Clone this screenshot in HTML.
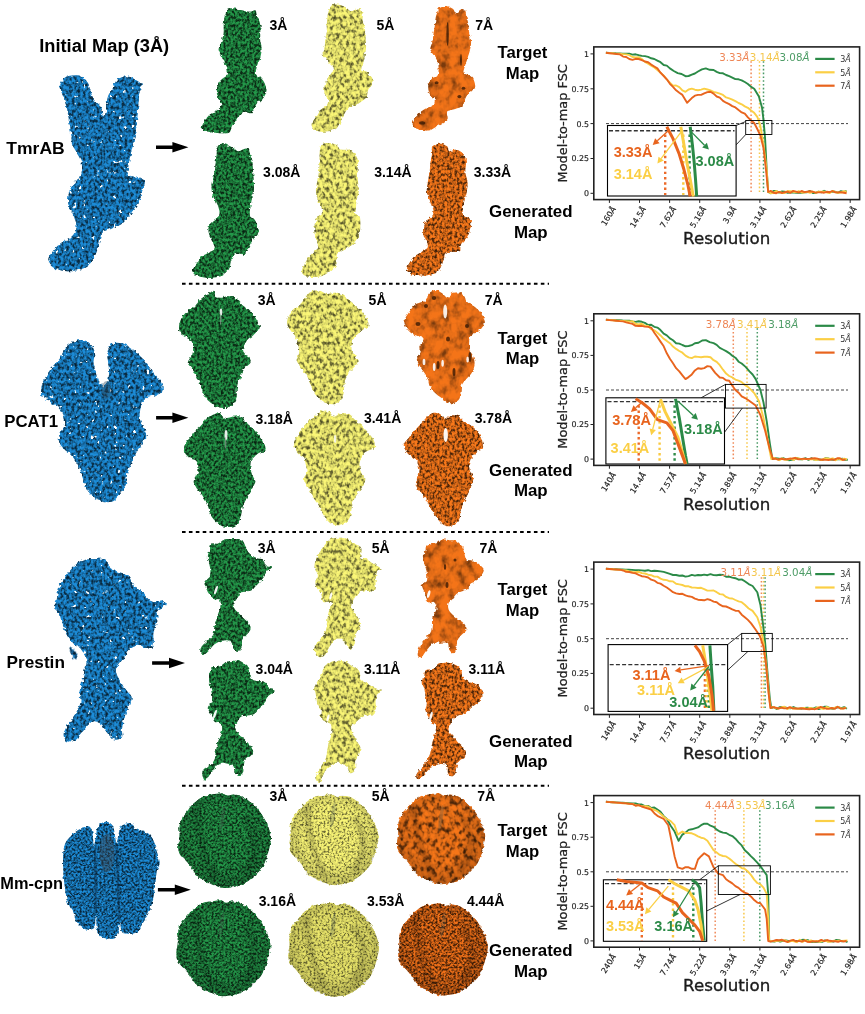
<!DOCTYPE html>
<html><head><meta charset="utf-8"><title>Figure</title>
<style>html,body{margin:0;padding:0;background:#fff;}body{width:865px;height:1014px;overflow:hidden;}svg{display:block;}</style>
</head><body>
<svg width="865" height="1014" viewBox="0 0 865 1014">
<defs>
<radialGradient id="sphg" cx="0.5" cy="0.45" r="0.55"><stop offset="0" stop-color="#000" stop-opacity="0"/><stop offset="0.6" stop-color="#000" stop-opacity="0"/><stop offset="1" stop-color="#000" stop-opacity="0.2"/></radialGradient>
<filter id="blur2" x="-20%" y="-20%" width="140%" height="140%"><feGaussianBlur stdDeviation="1.6"/></filter>
<filter id="tD" x="-3%" y="-3%" width="106%" height="106%" color-interpolation-filters="sRGB"><feTurbulence type="fractalNoise" baseFrequency="0.35" numOctaves="1" seed="6" result="dn"/><feDisplacementMap in="SourceGraphic" in2="dn" scale="4.0" xChannelSelector="R" yChannelSelector="G" result="src"/><feTurbulence type="fractalNoise" baseFrequency="0.42 0.36" numOctaves="2" seed="5" result="n0"/><feColorMatrix in="n0" type="matrix" values="1 0 0 0 0  1 0 0 0 0  1 0 0 0 0  0 0 0 0 1" result="n"/><feComponentTransfer in="n" result="g"><feFuncR type="table" tableValues="0.2 0.2 0.35 0.72 1 1 1"/><feFuncG type="table" tableValues="0.2 0.2 0.35 0.72 1 1 1"/><feFuncB type="table" tableValues="0.2 0.2 0.35 0.72 1 1 1"/><feFuncA type="linear" slope="0" intercept="1"/></feComponentTransfer><feComposite in="g" in2="src" operator="in" result="gc"/><feBlend in="gc" in2="src" mode="multiply" result="bl"/></filter>
<filter id="tDH" x="-3%" y="-3%" width="106%" height="106%" color-interpolation-filters="sRGB"><feTurbulence type="fractalNoise" baseFrequency="0.35" numOctaves="1" seed="6" result="dn"/><feDisplacementMap in="SourceGraphic" in2="dn" scale="5" xChannelSelector="R" yChannelSelector="G" result="src"/><feTurbulence type="fractalNoise" baseFrequency="0.36 0.3" numOctaves="2" seed="5" result="n0"/><feColorMatrix in="n0" type="matrix" values="1 0 0 0 0  1 0 0 0 0  1 0 0 0 0  0 0 0 0 1" result="n"/><feComponentTransfer in="n" result="g"><feFuncR type="table" tableValues="0.22 0.22 0.4 0.78 1 1 1"/><feFuncG type="table" tableValues="0.22 0.22 0.4 0.78 1 1 1"/><feFuncB type="table" tableValues="0.22 0.22 0.4 0.78 1 1 1"/><feFuncA type="linear" slope="0" intercept="1"/></feComponentTransfer><feComposite in="g" in2="src" operator="in" result="gc"/><feBlend in="gc" in2="src" mode="multiply" result="bl"/><feTurbulence type="fractalNoise" baseFrequency="0.22 0.2" numOctaves="2" seed="12" result="hn"/><feColorMatrix in="hn" type="matrix" values="0 0 0 0 0  0 0 0 0 0  0 0 0 0 0  14 0 0 0 -3.01" result="hm"/><feComposite in="bl" in2="hm" operator="in"/></filter>
<filter id="tL" x="-3%" y="-3%" width="106%" height="106%" color-interpolation-filters="sRGB"><feTurbulence type="fractalNoise" baseFrequency="0.35" numOctaves="1" seed="8" result="dn"/><feDisplacementMap in="SourceGraphic" in2="dn" scale="4.0" xChannelSelector="R" yChannelSelector="G" result="src"/><feTurbulence type="fractalNoise" baseFrequency="0.3 0.24" numOctaves="2" seed="7" result="n0"/><feColorMatrix in="n0" type="matrix" values="1 0 0 0 0  1 0 0 0 0  1 0 0 0 0  0 0 0 0 1" result="n"/><feComponentTransfer in="n" result="g"><feFuncR type="table" tableValues="0.3 0.3 0.52 0.88 1 1 1"/><feFuncG type="table" tableValues="0.3 0.3 0.52 0.88 1 1 1"/><feFuncB type="table" tableValues="0.3 0.3 0.52 0.88 1 1 1"/><feFuncA type="linear" slope="0" intercept="1"/></feComponentTransfer><feComposite in="g" in2="src" operator="in" result="gc"/><feBlend in="gc" in2="src" mode="multiply" result="bl"/></filter>
<filter id="tS" x="-3%" y="-3%" width="106%" height="106%" color-interpolation-filters="sRGB"><feTurbulence type="fractalNoise" baseFrequency="0.35" numOctaves="1" seed="10" result="dn"/><feDisplacementMap in="SourceGraphic" in2="dn" scale="4.0" xChannelSelector="R" yChannelSelector="G" result="src"/><feTurbulence type="fractalNoise" baseFrequency="0.12 0.1" numOctaves="3" seed="9" result="n0"/><feColorMatrix in="n0" type="matrix" values="1 0 0 0 0  1 0 0 0 0  1 0 0 0 0  0 0 0 0 1" result="n"/><feComponentTransfer in="n" result="g"><feFuncR type="table" tableValues="0.5 0.5 0.72 0.92 1 1 1"/><feFuncG type="table" tableValues="0.5 0.5 0.72 0.92 1 1 1"/><feFuncB type="table" tableValues="0.5 0.5 0.72 0.92 1 1 1"/><feFuncA type="linear" slope="0" intercept="1"/></feComponentTransfer><feComposite in="g" in2="src" operator="in" result="gc"/><feBlend in="gc" in2="src" mode="multiply" result="bl"/></filter>
<filter id="tF" x="-3%" y="-3%" width="106%" height="106%" color-interpolation-filters="sRGB"><feTurbulence type="fractalNoise" baseFrequency="0.35" numOctaves="1" seed="12" result="dn"/><feDisplacementMap in="SourceGraphic" in2="dn" scale="4.0" xChannelSelector="R" yChannelSelector="G" result="src"/><feTurbulence type="fractalNoise" baseFrequency="0.5 0.45" numOctaves="2" seed="11" result="n0"/><feColorMatrix in="n0" type="matrix" values="1 0 0 0 0  1 0 0 0 0  1 0 0 0 0  0 0 0 0 1" result="n"/><feComponentTransfer in="n" result="g"><feFuncR type="table" tableValues="0.2 0.2 0.35 0.72 1 1 1"/><feFuncG type="table" tableValues="0.2 0.2 0.35 0.72 1 1 1"/><feFuncB type="table" tableValues="0.2 0.2 0.35 0.72 1 1 1"/><feFuncA type="linear" slope="0" intercept="1"/></feComponentTransfer><feComposite in="g" in2="src" operator="in" result="gc"/><feBlend in="gc" in2="src" mode="multiply" result="bl"/></filter>
<filter id="tFL" x="-3%" y="-3%" width="106%" height="106%" color-interpolation-filters="sRGB"><feTurbulence type="fractalNoise" baseFrequency="0.35" numOctaves="1" seed="14" result="dn"/><feDisplacementMap in="SourceGraphic" in2="dn" scale="4.0" xChannelSelector="R" yChannelSelector="G" result="src"/><feTurbulence type="fractalNoise" baseFrequency="0.5 0.45" numOctaves="2" seed="13" result="n0"/><feColorMatrix in="n0" type="matrix" values="1 0 0 0 0  1 0 0 0 0  1 0 0 0 0  0 0 0 0 1" result="n"/><feComponentTransfer in="n" result="g"><feFuncR type="table" tableValues="0.35 0.35 0.55 0.9 1 1 1"/><feFuncG type="table" tableValues="0.35 0.35 0.55 0.9 1 1 1"/><feFuncB type="table" tableValues="0.35 0.35 0.55 0.9 1 1 1"/><feFuncA type="linear" slope="0" intercept="1"/></feComponentTransfer><feComposite in="g" in2="src" operator="in" result="gc"/><feBlend in="gc" in2="src" mode="multiply" result="bl"/></filter>
<filter id="tM" x="-3%" y="-3%" width="106%" height="106%" color-interpolation-filters="sRGB"><feTurbulence type="fractalNoise" baseFrequency="0.35" numOctaves="1" seed="18" result="dn"/><feDisplacementMap in="SourceGraphic" in2="dn" scale="4.0" xChannelSelector="R" yChannelSelector="G" result="src"/><feTurbulence type="fractalNoise" baseFrequency="0.4 0.34" numOctaves="2" seed="17" result="n0"/><feColorMatrix in="n0" type="matrix" values="1 0 0 0 0  1 0 0 0 0  1 0 0 0 0  0 0 0 0 1" result="n"/><feComponentTransfer in="n" result="g"><feFuncR type="table" tableValues="0.22 0.22 0.42 0.8 1 1 1"/><feFuncG type="table" tableValues="0.22 0.22 0.42 0.8 1 1 1"/><feFuncB type="table" tableValues="0.22 0.22 0.42 0.8 1 1 1"/><feFuncA type="linear" slope="0" intercept="1"/></feComponentTransfer><feComposite in="g" in2="src" operator="in" result="gc"/><feBlend in="gc" in2="src" mode="multiply" result="bl"/></filter>
<filter id="tFM" x="-3%" y="-3%" width="106%" height="106%" color-interpolation-filters="sRGB"><feTurbulence type="fractalNoise" baseFrequency="0.35" numOctaves="1" seed="20" result="dn"/><feDisplacementMap in="SourceGraphic" in2="dn" scale="4.0" xChannelSelector="R" yChannelSelector="G" result="src"/><feTurbulence type="fractalNoise" baseFrequency="0.5 0.45" numOctaves="2" seed="19" result="n0"/><feColorMatrix in="n0" type="matrix" values="1 0 0 0 0  1 0 0 0 0  1 0 0 0 0  0 0 0 0 1" result="n"/><feComponentTransfer in="n" result="g"><feFuncR type="table" tableValues="0.22 0.22 0.42 0.8 1 1 1"/><feFuncG type="table" tableValues="0.22 0.22 0.42 0.8 1 1 1"/><feFuncB type="table" tableValues="0.22 0.22 0.42 0.8 1 1 1"/><feFuncA type="linear" slope="0" intercept="1"/></feComponentTransfer><feComposite in="g" in2="src" operator="in" result="gc"/><feBlend in="gc" in2="src" mode="multiply" result="bl"/></filter>
<filter id="tO4" x="-3%" y="-3%" width="106%" height="106%" color-interpolation-filters="sRGB"><feTurbulence type="fractalNoise" baseFrequency="0.35" numOctaves="1" seed="22" result="dn"/><feDisplacementMap in="SourceGraphic" in2="dn" scale="4.0" xChannelSelector="R" yChannelSelector="G" result="src"/><feTurbulence type="fractalNoise" baseFrequency="0.22 0.18" numOctaves="2" seed="21" result="n0"/><feColorMatrix in="n0" type="matrix" values="1 0 0 0 0  1 0 0 0 0  1 0 0 0 0  0 0 0 0 1" result="n"/><feComponentTransfer in="n" result="g"><feFuncR type="table" tableValues="0.25 0.25 0.5 0.88 1 1 1"/><feFuncG type="table" tableValues="0.25 0.25 0.5 0.88 1 1 1"/><feFuncB type="table" tableValues="0.25 0.25 0.5 0.88 1 1 1"/><feFuncA type="linear" slope="0" intercept="1"/></feComponentTransfer><feComposite in="g" in2="src" operator="in" result="gc"/><feBlend in="gc" in2="src" mode="multiply" result="bl"/></filter>
</defs>
<path d="M59.7,85.7C60.4,83.7 62.6,79.2 64.9,77.4C67.1,75.7 70.4,75.5 73.2,75.4C75.9,75.2 79.0,75.2 81.5,76.4C83.9,77.6 86.1,80.0 87.7,82.6C89.2,85.2 89.6,88.8 90.8,91.9C92.0,95.1 93.2,98.7 94.9,101.3C96.6,103.9 99.9,105.4 101.1,107.5C102.3,109.6 101.7,112.2 102.2,113.7C102.7,115.3 103.6,117.5 104.2,116.8C104.9,116.1 105.8,112.7 106.3,109.6C106.8,106.5 106.5,101.4 107.4,98.2C108.2,94.9 109.9,92.8 111.5,89.9C113.1,86.9 114.4,82.8 116.7,80.5C118.9,78.3 122.2,76.7 125.0,76.4C127.7,76.1 130.5,77.1 133.3,78.5C136.0,79.9 140.5,82.4 141.6,84.7C142.6,86.9 140.0,88.7 139.5,91.9C139.0,95.2 138.8,100.2 138.4,104.4C138.1,108.5 137.9,112.0 137.4,116.8C136.9,121.6 136.2,128.2 135.3,133.4C134.5,138.6 133.3,143.1 132.2,147.9C131.2,152.7 129.8,157.9 129.1,162.4C128.4,166.9 126.7,172.4 128.1,174.8C129.5,177.3 134.6,175.9 137.4,176.9C140.2,178.0 143.8,179.0 144.7,181.1C145.5,183.1 143.5,186.2 142.6,189.4C141.7,192.5 141.0,196.3 139.5,199.7C137.9,203.2 135.3,207.0 133.3,210.1C131.2,213.2 129.1,215.9 127.0,218.4C125.0,220.8 123.6,222.9 120.8,224.6C118.1,226.3 113.6,227.3 110.5,228.7C107.4,230.1 104.1,230.5 102.2,232.9C100.3,235.3 100.1,239.8 99.1,243.2C98.0,246.7 97.5,250.1 96.0,253.6C94.4,257.1 92.2,261.4 89.7,264.0C87.3,266.6 84.6,267.9 81.5,269.1C78.3,270.4 74.5,271.0 71.1,271.2C67.6,271.4 63.8,270.9 60.7,270.2C57.6,269.5 54.5,268.8 52.4,267.1C50.4,265.3 48.3,262.4 48.3,259.8C48.3,257.2 50.4,254.3 52.4,251.5C54.5,248.8 57.6,245.7 60.7,243.2C63.8,240.8 68.5,239.4 71.1,237.0C73.7,234.6 75.6,231.5 76.3,228.7C77.0,226.0 76.1,223.5 75.2,220.4C74.4,217.3 72.3,213.2 71.1,210.1C69.9,207.0 68.2,205.2 68.0,201.8C67.8,198.3 68.7,192.8 70.1,189.4C71.4,185.9 74.4,183.8 76.3,181.1C78.2,178.3 80.6,175.9 81.5,172.8C82.3,169.7 82.3,165.9 81.5,162.4C80.6,159.0 77.8,155.2 76.3,152.0C74.7,148.9 73.0,146.9 72.1,143.8C71.3,140.6 71.6,137.2 71.1,133.4C70.6,129.6 69.7,125.1 69.0,121.0C68.3,116.8 67.8,112.3 66.9,108.5C66.1,104.7 64.9,101.3 63.8,98.2C62.8,95.1 61.4,91.9 60.7,89.9C60.0,87.8 59.0,87.8 59.7,85.7Z" fill="#1c8cd8" filter="url(#tDH)"/>
<path d="M226.4,10.4C227.0,9.4 227.3,8.5 229.2,8.3C231.0,8.1 234.9,8.5 237.5,9.0C240.0,9.4 242.3,10.6 244.4,11.0C246.4,11.5 248.0,11.8 249.9,11.7C251.7,11.6 254.3,9.8 255.4,10.4C256.6,10.9 256.0,13.0 256.8,15.2C257.6,17.4 259.7,20.7 260.2,23.5C260.8,26.2 260.2,28.8 260.2,31.8C260.2,34.7 260.0,38.7 260.2,41.4C260.5,44.2 261.6,45.6 261.6,48.3C261.6,51.1 261.0,55.0 260.2,58.0C259.4,61.0 257.5,63.5 256.8,66.3C256.1,69.0 255.5,72.7 256.1,74.5C256.7,76.4 258.9,75.9 260.2,77.3C261.6,78.7 263.3,80.5 264.4,82.8C265.4,85.1 266.8,88.3 266.4,91.1C266.1,93.9 263.9,97.3 262.3,99.4C260.7,101.5 258.2,101.9 256.8,103.5C255.4,105.1 254.9,107.4 254.0,109.1C253.1,110.7 252.6,112.7 251.3,113.2C249.9,113.7 247.6,111.6 245.7,111.8C243.9,112.0 241.8,113.2 240.2,114.6C238.6,116.0 237.5,118.0 236.1,120.1C234.7,122.2 233.1,124.9 231.9,127.0C230.8,129.1 230.8,131.5 229.2,132.5C227.6,133.6 225.0,133.2 222.3,133.2C219.5,133.2 215.4,132.9 212.6,132.5C209.8,132.2 207.5,131.8 205.7,131.1C203.9,130.5 201.8,130.0 201.6,128.4C201.3,126.8 202.9,123.8 204.3,121.5C205.7,119.2 207.8,116.4 209.8,114.6C211.9,112.7 214.7,112.0 216.8,110.4C218.8,108.8 221.9,106.8 222.3,104.9C222.6,103.1 219.7,101.5 218.8,99.4C217.9,97.3 216.9,95.0 216.8,92.5C216.6,90.0 217.2,86.5 218.1,84.2C219.1,81.9 220.7,80.3 222.3,78.7C223.9,77.1 227.1,76.6 227.8,74.5C228.5,72.5 227.1,68.6 226.4,66.3C225.7,64.0 224.8,63.0 223.7,60.7C222.5,58.4 220.3,54.5 219.5,52.5C218.7,50.4 218.5,50.2 218.8,48.3C219.2,46.5 220.8,43.9 221.6,41.4C222.4,38.9 223.3,35.9 223.7,33.1C224.0,30.4 223.5,27.4 223.7,24.8C223.8,22.3 224.0,19.8 224.3,17.9C224.7,16.1 225.4,15.1 225.7,13.8C226.1,12.5 225.8,11.3 226.4,10.4Z" fill="#239849" filter="url(#tD)"/>
<path d="M328.1,13.1C328.8,11.0 329.7,6.9 331.6,5.5C333.4,4.1 336.8,4.5 339.2,4.8C341.6,5.2 344.2,6.6 346.1,7.6C347.9,8.6 348.6,10.7 350.2,11.0C351.8,11.4 354.1,10.1 355.7,9.7C357.4,9.2 358.7,7.6 359.9,8.3C361.0,9.0 362.2,11.7 362.6,13.8C363.1,15.9 362.3,18.4 362.6,20.7C363.0,23.0 364.3,25.1 364.7,27.6C365.2,30.1 365.2,32.7 365.4,35.9C365.6,39.1 366.2,43.7 366.1,46.9C366.0,50.2 365.2,52.5 364.7,55.2C364.3,58.0 363.9,61.0 363.3,63.5C362.8,66.0 360.7,69.0 361.3,70.4C361.8,71.8 365.1,70.6 366.8,71.8C368.5,72.9 370.7,75.2 371.6,77.3C372.5,79.4 372.9,82.1 372.3,84.2C371.7,86.3 369.1,87.7 368.2,89.7C367.2,91.8 367.7,94.8 366.8,96.6C365.9,98.5 364.5,99.4 362.6,100.8C360.8,102.2 358.0,103.8 355.7,104.9C353.4,106.1 350.7,106.3 348.8,107.7C347.0,109.1 346.1,110.9 344.7,113.2C343.3,115.5 341.9,118.9 340.6,121.5C339.2,124.0 338.3,126.8 336.4,128.4C334.6,130.0 332.0,130.6 329.5,131.1C327.0,131.7 323.8,132.1 321.2,131.8C318.7,131.6 315.9,131.0 314.3,129.8C312.7,128.5 311.3,126.3 311.6,124.2C311.8,122.2 314.3,119.6 315.7,117.3C317.1,115.0 318.0,112.5 319.8,110.4C321.7,108.4 325.4,106.8 326.8,104.9C328.1,103.1 328.5,101.2 328.1,99.4C327.8,97.6 325.3,96.2 324.7,93.9C324.1,91.6 324.2,88.1 324.7,85.6C325.1,83.1 326.2,81.0 327.4,78.7C328.7,76.4 331.2,73.6 332.3,71.8C333.3,69.9 334.1,69.0 333.7,67.6C333.2,66.3 330.9,65.1 329.5,63.5C328.1,61.9 326.5,59.6 325.4,58.0C324.2,56.4 322.7,55.7 322.6,53.8C322.5,52.0 324.2,49.5 324.7,46.9C325.1,44.4 325.0,41.2 325.4,38.7C325.7,36.1 326.5,34.3 326.8,31.8C327.0,29.2 326.6,25.8 326.8,23.5C326.9,21.2 327.2,19.7 327.4,17.9C327.7,16.2 327.4,15.2 328.1,13.1Z" fill="#faf676" filter="url(#tL)"/>
<path d="M437.3,12.4C437.7,10.8 437.0,7.9 438.7,6.9C440.3,5.9 444.5,5.9 446.9,6.2C449.4,6.6 451.8,7.9 453.1,9.0C454.5,10.0 454.2,12.2 455.2,12.4C456.3,12.7 457.7,10.8 459.4,10.4C461.0,9.9 463.7,8.6 464.9,9.7C466.0,10.7 465.7,14.3 466.3,16.6C466.8,18.9 467.9,20.9 468.3,23.5C468.8,26.0 468.6,28.8 469.0,31.8C469.5,34.7 471.0,38.2 471.1,41.4C471.2,44.6 470.3,48.3 469.7,51.1C469.1,53.8 468.4,55.4 467.6,58.0C466.8,60.5 465.6,63.7 464.9,66.3C464.2,68.8 463.0,71.8 463.5,73.2C464.0,74.5 466.0,73.6 467.6,74.5C469.3,75.5 471.9,76.6 473.2,78.7C474.4,80.8 475.5,84.9 475.2,87.0C475.0,89.0 473.3,89.5 471.8,91.1C470.3,92.7 467.5,94.8 466.3,96.6C465.0,98.5 464.9,100.5 464.2,102.2C463.5,103.8 463.6,105.1 462.1,106.3C460.6,107.4 457.7,108.1 455.2,109.1C452.7,110.0 448.2,110.2 446.9,111.8C445.7,113.4 448.3,116.9 447.6,118.7C446.9,120.6 444.7,121.5 442.8,122.9C440.8,124.2 438.2,125.7 435.9,127.0C433.6,128.3 431.5,130.0 429.0,130.5C426.5,130.9 423.2,130.3 420.7,129.8C418.2,129.2 415.1,128.4 413.8,127.0C412.5,125.6 412.4,123.6 413.1,121.5C413.8,119.4 416.0,116.6 417.9,114.6C419.9,112.5 422.3,110.7 424.8,109.1C427.4,107.4 431.5,106.5 433.1,104.9C434.7,103.3 435.1,101.2 434.5,99.4C433.9,97.6 430.7,96.2 429.7,93.9C428.6,91.6 428.0,88.1 428.3,85.6C428.6,83.1 430.3,80.3 431.8,78.7C433.2,77.1 436.1,77.5 437.3,75.9C438.4,74.3 438.7,71.6 438.7,69.0C438.7,66.5 438.4,63.5 437.3,60.7C436.1,58.0 432.9,54.5 431.8,52.5C430.6,50.4 430.3,50.2 430.4,48.3C430.5,46.5 431.9,44.2 432.4,41.4C433.0,38.7 433.4,34.7 433.8,31.8C434.3,28.8 434.9,26.0 435.2,23.5C435.5,20.9 435.5,18.4 435.9,16.6C436.2,14.7 436.8,14.0 437.3,12.4Z" fill="#f47418" filter="url(#tS)"/>
<path d="M216.8,148.3C217.4,146.8 218.7,144.4 220.5,143.9C222.4,143.4 225.7,144.6 227.9,145.4C230.1,146.1 232.1,147.3 233.8,148.3C235.6,149.3 236.6,151.2 238.3,151.3C240.0,151.4 242.5,149.6 244.2,149.1C245.9,148.6 247.7,147.5 248.6,148.3C249.6,149.2 249.5,152.0 250.1,154.2C250.7,156.5 251.9,158.7 252.3,161.6C252.8,164.6 252.8,168.6 253.1,172.0C253.3,175.5 253.7,179.2 253.8,182.4C254.0,185.6 254.2,188.3 253.8,191.2C253.5,194.2 252.2,197.2 251.6,200.1C251.0,203.1 250.4,206.3 250.1,209.0C249.9,211.7 249.4,214.7 250.1,216.4C250.9,218.1 253.2,217.4 254.6,219.4C255.9,221.3 257.7,226.0 258.3,228.3C258.9,230.5 259.0,231.0 258.3,232.7C257.5,234.4 255.2,236.6 253.8,238.6C252.5,240.6 251.2,242.6 250.1,244.5C249.0,246.5 248.2,248.7 247.2,250.5C246.2,252.2 245.4,254.4 244.2,254.9C243.0,255.4 241.5,253.4 239.8,253.4C238.0,253.4 235.3,253.7 233.8,254.9C232.4,256.1 231.6,258.6 230.9,260.8C230.1,263.0 230.6,266.0 229.4,268.2C228.2,270.4 225.5,272.7 223.5,274.1C221.5,275.6 220.3,276.5 217.6,277.1C214.9,277.7 210.7,278.1 207.2,277.8C203.7,277.6 199.3,276.7 196.8,275.6C194.4,274.5 192.6,272.9 192.4,271.2C192.2,269.4 194.1,267.5 195.4,265.3C196.6,263.0 197.8,259.8 199.8,257.9C201.8,255.9 204.7,254.9 207.2,253.4C209.7,251.9 213.7,250.9 214.6,249.0C215.5,247.0 213.2,243.8 212.4,241.6C211.5,239.4 210.0,238.1 209.4,235.7C208.8,233.2 208.1,229.2 208.7,226.8C209.3,224.3 211.4,222.7 213.1,220.8C214.9,219.0 218.1,217.6 219.0,215.7C220.0,213.7 219.5,211.4 219.0,209.0C218.6,206.7 217.2,204.1 216.1,201.6C215.0,199.1 213.1,197.2 212.4,194.2C211.6,191.2 211.4,187.1 211.6,183.8C211.9,180.6 213.2,177.7 213.9,175.0C214.5,172.3 215.0,170.3 215.3,167.6C215.7,164.9 215.8,161.1 216.1,158.7C216.3,156.2 216.7,154.5 216.8,152.8C216.9,151.0 216.2,149.8 216.8,148.3Z" fill="#239849" filter="url(#tD)"/>
<path d="M320.3,148.3C320.8,146.6 321.0,144.7 322.6,143.9C324.2,143.0 327.5,142.9 330.0,143.1C332.4,143.4 335.8,144.4 337.4,145.4C339.0,146.3 338.4,148.3 339.6,149.1C340.8,149.8 342.9,149.7 344.8,149.8C346.6,149.9 349.0,149.1 350.7,149.8C352.4,150.5 353.9,152.3 355.1,154.2C356.4,156.2 357.7,158.7 358.1,161.6C358.5,164.6 357.3,168.6 357.3,172.0C357.3,175.5 357.8,179.2 358.1,182.4C358.3,185.6 359.1,188.3 358.8,191.2C358.6,194.2 357.1,197.2 356.6,200.1C356.1,203.1 356.1,206.8 355.9,209.0C355.6,211.2 354.5,212.2 355.1,213.4C355.7,214.7 358.7,214.7 359.6,216.4C360.4,218.1 360.3,221.1 360.3,223.8C360.3,226.5 360.4,229.7 359.6,232.7C358.7,235.7 356.6,239.4 355.1,241.6C353.6,243.8 352.7,244.5 350.7,246.0C348.7,247.5 345.5,249.2 343.3,250.5C341.1,251.7 338.5,251.9 337.4,253.4C336.3,254.9 336.9,257.4 336.6,259.3C336.4,261.3 337.0,263.3 335.9,265.3C334.8,267.2 332.2,269.4 330.0,271.2C327.7,272.9 325.3,274.6 322.6,275.6C319.9,276.6 316.6,277.1 313.7,277.1C310.7,277.1 306.8,276.6 304.8,275.6C302.8,274.6 301.8,273.1 301.8,271.2C301.8,269.2 303.6,266.2 304.8,263.8C306.0,261.3 307.5,258.6 309.2,256.4C311.0,254.2 313.7,251.9 315.2,250.5C316.6,249.0 318.0,249.5 318.1,247.5C318.2,245.5 316.5,241.3 315.9,238.6C315.3,235.9 314.5,233.9 314.4,231.2C314.3,228.5 314.5,224.8 315.2,222.3C315.8,219.9 316.9,218.1 318.1,216.4C319.4,214.7 322.1,213.7 322.6,212.0C323.1,210.2 321.9,208.3 321.1,206.0C320.2,203.8 318.2,201.4 317.4,198.6C316.5,195.9 315.9,192.7 315.9,189.8C315.9,186.8 316.9,183.8 317.4,180.9C317.9,177.9 318.5,175.0 318.9,172.0C319.2,169.0 319.5,166.1 319.6,163.1C319.7,160.2 319.5,156.7 319.6,154.2C319.7,151.8 319.9,150.0 320.3,148.3Z" fill="#faf676" filter="url(#tL)"/>
<path d="M432.0,148.3C432.5,146.7 433.2,145.4 435.0,144.6C436.7,143.9 440.3,143.5 442.4,143.9C444.5,144.3 446.4,145.6 447.5,146.8C448.7,148.1 447.9,150.8 449.0,151.3C450.1,151.8 452.4,149.8 454.2,149.8C456.1,149.8 458.4,150.3 460.1,151.3C461.9,152.3 463.6,153.7 464.6,155.7C465.6,157.7 465.9,160.4 466.0,163.1C466.2,165.8 465.1,168.8 465.3,172.0C465.6,175.2 467.3,179.2 467.5,182.4C467.8,185.6 467.3,188.3 466.8,191.2C466.3,194.2 465.2,197.4 464.6,200.1C464.0,202.8 463.3,205.1 463.1,207.5C462.8,210.0 462.3,213.2 463.1,214.9C463.8,216.7 466.2,216.7 467.5,217.9C468.9,219.1 470.9,220.1 471.2,222.3C471.6,224.6 470.6,228.5 469.7,231.2C468.9,233.9 467.5,236.4 466.0,238.6C464.6,240.8 461.9,242.6 460.9,244.5C459.9,246.5 460.7,249.2 460.1,250.5C459.5,251.7 458.9,251.7 457.2,251.9C455.4,252.2 451.7,251.7 449.8,251.9C447.8,252.2 446.3,252.2 445.3,253.4C444.3,254.6 444.6,257.1 443.8,259.3C443.1,261.6 442.1,264.5 440.9,266.7C439.7,269.0 438.4,271.3 436.4,272.7C434.5,274.0 431.8,274.4 429.0,274.9C426.3,275.4 423.1,275.7 420.2,275.6C417.2,275.5 413.5,275.1 411.3,274.1C409.1,273.1 407.1,271.7 406.8,269.7C406.6,267.7 408.6,264.5 409.8,262.3C411.0,260.1 412.3,258.1 414.2,256.4C416.2,254.6 419.4,253.4 421.6,251.9C423.9,250.5 426.7,249.2 427.6,247.5C428.4,245.8 427.4,243.5 426.8,241.6C426.2,239.6 424.5,238.1 423.9,235.7C423.2,233.2 422.8,229.2 423.1,226.8C423.5,224.3 424.6,222.6 426.1,220.8C427.6,219.1 430.8,218.1 432.0,216.4C433.2,214.7 433.7,212.7 433.5,210.5C433.2,208.3 431.4,205.3 430.5,203.1C429.7,200.9 428.9,199.4 428.3,197.2C427.7,194.9 426.8,192.7 426.8,189.8C426.8,186.8 427.8,182.6 428.3,179.4C428.8,176.2 429.4,173.5 429.8,170.5C430.2,167.6 430.2,164.4 430.5,161.6C430.9,158.9 431.8,156.5 432.0,154.2C432.3,152.0 431.5,149.9 432.0,148.3Z" fill="#f8781a" filter="url(#tM)"/>
<path d="M65.9,347.3C68.3,344.4 71.4,342.4 74.5,341.2C77.7,340.1 82.0,339.6 84.9,340.4C87.8,341.1 90.1,343.2 91.8,345.5C93.5,347.8 95.0,351.6 95.2,354.2C95.5,356.8 93.5,358.5 93.5,361.1C93.5,363.7 94.5,366.5 95.2,369.7C96.0,372.9 96.7,377.5 97.8,380.1C99.0,382.7 100.6,385.0 102.2,385.2C103.7,385.5 106.2,383.8 107.3,381.8C108.5,379.8 108.9,376.3 109.1,373.2C109.2,370.0 108.5,366.0 108.2,362.8C107.9,359.6 107.2,356.8 107.3,354.2C107.5,351.6 107.9,349.1 109.1,347.3C110.2,345.4 111.9,343.5 114.2,342.9C116.5,342.4 120.0,342.8 122.9,343.8C125.8,344.8 128.6,347.0 131.5,349.0C134.4,351.0 137.5,353.3 140.1,355.9C142.7,358.5 144.7,361.7 147.0,364.5C149.3,367.4 151.6,370.3 154.0,373.2C156.3,376.0 159.4,378.9 160.9,381.8C162.3,384.7 163.2,388.3 162.6,390.4C162.0,392.6 159.7,393.7 157.4,394.7C155.1,395.8 151.2,395.5 148.8,396.5C146.3,397.5 144.2,398.6 142.7,400.8C141.3,402.9 140.6,406.3 140.1,409.4C139.7,412.6 139.4,416.6 140.1,419.8C140.9,422.9 143.3,425.8 144.5,428.4C145.6,431.0 147.5,432.7 147.0,435.3C146.6,437.9 143.7,441.1 141.9,444.0C140.0,446.8 137.5,449.4 135.8,452.6C134.1,455.7 132.9,459.5 131.5,462.9C130.1,466.4 128.2,469.6 127.2,473.3C126.2,477.0 126.8,481.8 125.5,485.4C124.2,489.0 121.9,492.1 119.4,494.9C117.0,497.6 114.0,500.8 110.8,501.8C107.6,502.8 103.6,501.9 100.4,500.9C97.3,499.9 94.2,498.0 91.8,495.7C89.3,493.4 87.3,490.3 85.8,487.1C84.2,483.9 83.5,480.2 82.3,476.8C81.1,473.3 80.6,469.8 78.8,466.4C77.1,462.9 74.4,458.9 71.9,456.0C69.5,453.2 66.3,451.6 64.2,449.1C62.0,446.7 59.6,444.0 59.0,441.4C58.4,438.8 59.7,436.3 60.7,433.6C61.7,430.9 64.6,428.1 65.0,425.0C65.5,421.8 64.6,417.6 63.3,414.6C62.0,411.6 59.7,409.1 57.3,406.8C54.8,404.5 51.2,402.7 48.6,400.8C46.0,398.9 42.9,397.9 41.7,395.6C40.6,393.3 41.0,390.1 41.7,387.0C42.4,383.8 44.3,379.9 46.0,376.6C47.8,373.3 49.8,370.1 52.1,367.1C54.4,364.1 57.6,361.8 59.9,358.5C62.2,355.2 63.5,350.1 65.9,347.3Z" fill="#1c8cd8" filter="url(#tDH)"/>
<path d="M200.8,299.1C202.9,297.2 206.4,295.4 208.5,294.0C210.5,292.6 211.9,291.0 212.9,290.8C214.0,290.6 214.4,291.6 214.9,292.7C215.3,293.8 214.4,296.3 215.5,297.2C216.6,298.0 219.5,297.9 221.3,297.8C223.1,297.7 224.3,296.8 226.4,296.5C228.5,296.3 232.0,295.7 234.1,296.5C236.2,297.4 237.5,300.0 239.2,301.7C240.9,303.4 242.2,304.9 244.4,306.8C246.5,308.7 249.9,310.9 252.1,313.2C254.2,315.6 255.9,318.5 257.2,320.9C258.5,323.2 259.7,325.6 259.7,327.3C259.7,329.0 258.5,329.7 257.2,331.2C255.9,332.6 253.5,335.0 252.1,336.3C250.6,337.6 249.3,337.8 248.2,338.8C247.1,339.9 246.5,341.2 245.6,342.7C244.8,344.2 243.3,345.9 243.1,347.8C242.9,349.7 243.3,352.5 244.4,354.2C245.4,355.9 248.5,356.6 249.5,358.1C250.4,359.6 251.0,361.5 250.1,363.2C249.3,364.9 245.7,366.4 244.4,368.3C243.0,370.3 242.9,372.4 241.8,374.7C240.7,377.1 238.8,379.9 237.9,382.4C237.1,385.0 236.9,387.6 236.7,390.1C236.5,392.7 237.1,395.7 236.7,397.8C236.2,400.0 235.2,401.5 234.1,402.9C233.0,404.4 232.0,405.9 230.3,406.8C228.5,407.6 226.0,408.1 223.8,408.1C221.7,408.1 219.6,407.6 217.4,406.8C215.3,405.9 213.2,404.7 211.0,402.9C208.9,401.2 206.1,398.7 204.6,396.5C203.1,394.4 202.9,392.5 202.1,390.1C201.2,387.8 200.6,385.0 199.5,382.4C198.4,379.9 196.9,377.1 195.6,374.7C194.4,372.4 193.1,370.3 191.8,368.3C190.5,366.4 188.4,364.7 187.9,363.2C187.5,361.7 188.5,360.9 189.2,359.4C190.0,357.9 191.8,356.2 192.4,354.2C193.1,352.3 193.2,350.0 193.1,347.8C193.0,345.7 192.6,343.1 191.8,341.4C190.9,339.7 189.7,338.8 187.9,337.6C186.2,336.3 183.0,335.2 181.5,333.7C180.0,332.2 179.2,330.7 179.0,328.6C178.8,326.5 179.4,323.2 180.3,320.9C181.1,318.5 182.6,316.2 184.1,314.5C185.6,312.8 187.3,312.1 189.2,310.6C191.2,309.1 193.7,307.4 195.6,305.5C197.6,303.6 198.6,301.0 200.8,299.1Z" fill="#239849" filter="url(#tD)"/>
<path d="M306.9,295.3C309.1,293.0 311.0,291.4 313.3,290.8C315.7,290.1 318.7,290.9 321.0,291.4C323.4,291.9 325.3,293.8 327.4,294.0C329.6,294.2 331.5,292.7 333.8,292.7C336.2,292.7 339.2,292.9 341.5,294.0C343.9,295.0 345.6,297.2 347.9,299.1C350.3,301.0 353.3,303.4 355.6,305.5C358.0,307.6 360.1,309.6 362.1,311.9C364.0,314.3 366.1,317.3 367.2,319.6C368.2,322.0 368.9,324.5 368.5,326.0C368.0,327.5 366.1,327.5 364.6,328.6C363.1,329.7 361.2,330.9 359.5,332.4C357.8,333.9 355.6,335.9 354.4,337.6C353.1,339.3 352.2,340.6 351.8,342.7C351.4,344.8 351.2,348.0 351.8,350.4C352.4,352.7 354.7,354.9 355.6,356.8C356.6,358.7 357.8,360.2 357.6,361.9C357.4,363.6 355.7,365.3 354.4,367.1C353.0,368.8 350.7,370.0 349.2,372.2C347.7,374.3 346.2,377.3 345.4,379.9C344.5,382.4 344.5,384.8 344.1,387.6C343.7,390.3 343.7,394.2 342.8,396.5C342.0,398.9 340.5,400.4 339.0,401.7C337.5,402.9 335.8,403.9 333.8,404.2C331.9,404.6 329.6,404.2 327.4,403.6C325.3,402.9 322.9,401.8 321.0,400.4C319.1,399.0 317.4,397.2 315.9,395.3C314.4,393.3 313.1,391.2 312.1,388.8C311.0,386.5 310.6,383.7 309.5,381.2C308.4,378.6 307.1,375.8 305.6,373.5C304.1,371.1 302.0,369.2 300.5,367.1C299.0,364.9 297.1,362.4 296.7,360.6C296.2,358.9 297.5,358.3 297.9,356.8C298.4,355.3 299.2,353.8 299.2,351.7C299.2,349.5 298.6,346.5 297.9,344.0C297.3,341.4 296.7,338.6 295.4,336.3C294.1,333.9 291.6,332.0 290.3,329.9C288.9,327.7 287.3,325.8 287.1,323.5C286.8,321.1 287.8,318.1 289.0,315.8C290.1,313.4 292.2,311.3 294.1,309.4C296.0,307.4 298.4,306.6 300.5,304.2C302.6,301.9 304.8,297.5 306.9,295.3Z" fill="#faf676" filter="url(#tL)"/>
<path d="M415.6,304.2C418.4,302.3 423.8,302.1 425.9,300.4C428.0,298.7 427.0,295.7 428.5,294.0C430.0,292.3 432.7,290.3 434.9,290.1C437.0,289.9 439.1,291.4 441.3,292.7C443.4,294.0 446.0,297.7 447.7,297.8C449.4,297.9 449.6,294.2 451.5,293.3C453.5,292.5 457.1,292.2 459.2,292.7C461.4,293.2 463.1,295.0 464.4,296.5C465.6,298.0 465.2,300.0 466.9,301.7C468.6,303.4 472.3,304.9 474.6,306.8C477.0,308.7 479.3,310.9 481.0,313.2C482.7,315.6 484.7,318.5 484.9,320.9C485.1,323.2 483.6,325.4 482.3,327.3C481.0,329.2 478.9,331.4 477.2,332.4C475.5,333.5 473.3,332.6 472.1,333.7C470.8,334.8 469.9,336.3 469.5,338.8C469.1,341.4 468.8,346.1 469.5,349.1C470.1,352.1 472.5,354.2 473.3,356.8C474.2,359.4 474.8,361.9 474.6,364.5C474.4,367.1 473.3,369.8 472.1,372.2C470.8,374.5 468.6,376.5 466.9,378.6C465.2,380.7 462.9,382.6 461.8,385.0C460.7,387.4 460.9,390.3 460.5,392.7C460.1,395.0 460.3,397.4 459.2,399.1C458.2,400.8 456.0,402.4 454.1,402.9C452.2,403.5 449.8,403.2 447.7,402.3C445.6,401.5 443.4,399.4 441.3,397.8C439.1,396.2 436.8,394.6 434.9,392.7C432.9,390.8 431.0,388.8 429.7,386.3C428.5,383.7 428.5,380.1 427.2,377.3C425.9,374.5 423.5,372.0 422.1,369.6C420.6,367.3 419.1,365.1 418.2,363.2C417.4,361.3 416.5,359.8 416.9,358.1C417.4,356.4 420.3,354.9 420.8,352.9C421.2,351.0 418.8,348.9 419.5,346.5C420.1,344.2 424.8,340.6 424.6,338.8C424.4,337.1 420.6,337.4 418.2,336.3C415.9,335.2 412.6,334.1 410.5,332.4C408.4,330.7 406.3,328.2 405.4,326.0C404.4,323.9 404.1,322.0 404.7,319.6C405.4,317.3 407.4,314.5 409.2,311.9C411.0,309.4 412.9,306.2 415.6,304.2Z" fill="#f47418" filter="url(#tS)"/>
<path d="M207.2,417.9C209.3,416.2 212.8,415.1 214.9,414.1C216.9,413.1 218.3,412.0 219.4,412.2C220.4,412.4 220.1,414.4 221.3,415.4C222.5,416.3 224.5,417.7 226.4,417.9C228.3,418.2 230.5,416.9 232.8,416.7C235.2,416.5 238.6,416.0 240.5,416.7C242.4,417.3 242.9,419.0 244.4,420.5C245.9,422.0 247.4,423.5 249.5,425.6C251.6,427.8 255.0,431.0 257.2,433.3C259.3,435.7 260.9,437.4 262.3,439.7C263.7,442.1 265.1,445.5 265.5,447.4C265.9,449.4 265.8,450.4 264.9,451.3C263.9,452.1 261.5,451.7 259.7,452.6C258.0,453.4 256.1,454.9 254.6,456.4C253.1,457.9 251.4,459.4 250.8,461.5C250.1,463.7 250.3,466.7 250.8,469.2C251.2,471.8 252.6,474.8 253.3,476.9C254.1,479.1 255.5,480.1 255.3,482.1C255.0,484.0 253.2,486.1 252.1,488.5C250.9,490.8 249.5,493.8 248.2,496.2C246.9,498.5 245.4,500.2 244.4,502.6C243.3,504.9 242.4,507.7 241.8,510.3C241.2,512.8 241.4,515.6 240.5,517.9C239.7,520.3 238.4,522.9 236.7,524.4C235.0,525.9 232.6,526.6 230.3,526.9C227.9,527.2 224.9,527.1 222.6,526.3C220.2,525.4 218.1,523.6 216.2,521.8C214.2,520.0 212.3,517.7 211.0,515.4C209.7,513.0 209.3,510.0 208.5,507.7C207.6,505.3 207.0,503.4 205.9,501.3C204.8,499.1 203.5,497.0 202.1,494.9C200.6,492.7 198.3,490.6 196.9,488.5C195.5,486.3 193.9,484.0 193.7,482.1C193.5,480.1 194.9,478.6 195.6,476.9C196.4,475.2 197.8,473.7 198.2,471.8C198.6,469.9 198.6,467.3 198.2,465.4C197.8,463.5 197.1,461.5 195.6,460.3C194.1,459.0 191.2,459.2 189.2,457.7C187.3,456.2 184.7,453.6 184.1,451.3C183.5,448.9 184.3,445.9 185.4,443.6C186.5,441.2 188.8,439.3 190.5,437.2C192.2,435.0 193.7,432.9 195.6,430.8C197.6,428.6 200.1,426.5 202.1,424.4C204.0,422.2 205.0,419.7 207.2,417.9Z" fill="#239849" filter="url(#tD)"/>
<path d="M315.9,415.4C318.0,413.8 320.2,411.5 322.3,410.9C324.4,410.3 326.8,410.6 328.7,411.5C330.6,412.5 331.9,416.3 333.8,416.7C335.8,417.0 337.7,413.9 340.3,413.5C342.8,413.0 346.9,413.1 349.2,414.1C351.6,415.1 352.2,417.3 354.4,419.2C356.5,421.2 359.7,423.3 362.1,425.6C364.4,428.0 366.5,431.0 368.5,433.3C370.4,435.7 372.5,437.4 373.6,439.7C374.7,442.1 375.5,445.7 374.9,447.4C374.2,449.1 371.5,449.1 369.7,450.0C368.0,450.9 366.1,451.1 364.6,452.6C363.1,454.1 361.6,456.6 360.8,459.0C359.9,461.3 359.3,464.1 359.5,466.7C359.7,469.2 361.1,472.4 362.1,474.4C363.0,476.3 364.9,476.5 365.3,478.2C365.6,479.9 364.9,482.5 364.0,484.6C363.0,486.8 361.1,488.7 359.5,491.0C357.9,493.4 355.6,496.2 354.4,498.7C353.1,501.3 352.4,503.6 351.8,506.4C351.2,509.2 351.4,512.8 350.5,515.4C349.7,517.9 348.4,520.2 346.7,521.8C345.0,523.4 342.6,524.6 340.3,525.0C337.9,525.4 334.7,525.1 332.6,524.4C330.4,523.6 329.1,522.4 327.4,520.5C325.7,518.6 323.8,515.4 322.3,512.8C320.8,510.3 320.0,507.7 318.5,505.1C317.0,502.6 314.8,500.0 313.3,497.4C311.8,494.9 311.0,492.5 309.5,489.7C308.0,487.0 305.2,482.9 304.4,480.8C303.5,478.6 303.8,478.4 304.4,476.9C304.9,475.4 307.4,473.9 307.6,471.8C307.8,469.7 306.2,466.5 305.6,464.1C305.1,461.8 305.4,459.4 304.4,457.7C303.3,456.0 300.7,455.3 299.2,453.8C297.7,452.4 296.2,450.6 295.4,448.7C294.5,446.8 293.7,444.7 294.1,442.3C294.5,440.0 296.5,437.2 297.9,434.6C299.4,432.1 301.2,429.3 303.1,426.9C305.0,424.6 307.4,422.4 309.5,420.5C311.6,418.6 313.8,417.0 315.9,415.4Z" fill="#faf676" filter="url(#tL)"/>
<path d="M427.2,416.7C429.1,415.1 431.5,413.2 433.6,412.8C435.7,412.4 438.1,413.0 440.0,414.1C441.9,415.2 443.4,419.0 445.1,419.2C446.8,419.4 448.1,415.9 450.3,415.4C452.4,414.9 455.8,415.2 457.9,416.0C460.1,416.9 461.2,419.1 463.1,420.5C465.0,421.9 467.4,422.9 469.5,424.4C471.6,425.9 474.0,427.4 475.9,429.5C477.8,431.6 479.9,434.6 481.0,437.2C482.2,439.7 482.7,442.8 482.9,444.9C483.2,446.9 483.3,448.3 482.3,449.4C481.3,450.4 478.9,450.1 477.2,451.3C475.5,452.5 473.3,454.5 472.1,456.4C470.8,458.3 469.9,460.7 469.5,462.8C469.1,465.0 469.1,467.1 469.5,469.2C469.9,471.4 471.4,473.9 472.1,475.6C472.7,477.4 473.5,477.6 473.3,479.5C473.1,481.4 471.8,484.4 470.8,487.2C469.7,490.0 468.2,493.4 466.9,496.2C465.6,498.9 464.1,501.3 463.1,503.8C462.0,506.4 461.2,509.0 460.5,511.5C459.9,514.1 460.3,517.1 459.2,519.2C458.2,521.4 456.0,523.2 454.1,524.4C452.2,525.5 449.8,526.5 447.7,526.3C445.6,526.1 443.2,524.7 441.3,523.1C439.4,521.5 437.9,519.0 436.2,516.7C434.4,514.3 432.5,511.5 431.0,509.0C429.5,506.4 428.7,503.8 427.2,501.3C425.7,498.7 423.8,495.9 422.1,493.6C420.3,491.2 418.0,489.1 416.9,487.2C415.9,485.3 415.4,483.8 415.6,482.1C415.9,480.3 417.6,478.8 418.2,476.9C418.8,475.0 419.5,472.6 419.5,470.5C419.5,468.4 418.8,466.0 418.2,464.1C417.6,462.2 417.1,460.5 415.6,459.0C414.1,457.5 411.0,456.8 409.2,455.1C407.4,453.4 405.6,450.6 404.7,448.7C403.9,446.8 403.4,445.5 404.1,443.6C404.9,441.7 407.3,439.5 409.2,437.2C411.2,434.8 413.5,431.9 415.6,429.5C417.8,427.0 420.1,424.6 422.1,422.4C424.0,420.3 425.3,418.3 427.2,416.7Z" fill="#f8781a" filter="url(#tM)"/>
<path d="M74.6,565.8C77.9,562.8 80.8,561.0 84.4,559.9C88.1,558.7 92.7,558.9 96.3,558.9C99.9,558.9 103.8,558.4 106.1,559.9C108.4,561.3 108.1,565.8 110.1,567.8C112.1,569.7 115.0,570.4 118.0,571.7C120.9,573.0 125.2,573.3 127.8,575.6C130.5,577.9 131.8,583.2 133.8,585.5C135.7,587.8 136.7,586.8 139.7,589.4C142.6,592.1 147.6,599.3 151.5,601.3C155.5,603.3 161.0,600.6 163.3,601.3C165.6,601.9 166.3,603.6 165.3,605.2C164.3,606.9 158.7,608.5 157.4,611.1C156.1,613.8 158.1,617.4 157.4,621.0C156.8,624.6 154.1,628.9 153.5,632.8C152.8,636.8 154.5,642.0 153.5,644.7C152.5,647.3 150.2,648.6 147.6,648.6C144.9,648.6 141.0,644.3 137.7,644.7C134.4,645.0 130.1,648.3 127.8,650.6C125.5,652.9 125.5,656.2 123.9,658.5C122.3,660.8 119.3,662.1 118.0,664.4C116.7,666.7 115.3,669.0 116.0,672.3C116.7,675.6 120.0,680.8 121.9,684.1C123.9,687.4 126.2,689.7 127.8,692.0C129.5,694.3 131.8,695.3 131.8,697.9C131.8,700.6 129.2,704.2 127.8,707.8C126.5,711.4 124.9,716.0 123.9,719.6C122.9,723.2 122.3,726.5 121.9,729.5C121.6,732.4 123.2,735.7 121.9,737.4C120.6,739.0 116.7,740.3 114.0,739.3C111.4,738.4 108.4,734.1 106.1,731.5C103.8,728.8 102.5,725.2 100.2,723.6C97.9,721.9 95.0,720.6 92.3,721.6C89.7,722.6 87.1,726.5 84.4,729.5C81.8,732.4 79.5,737.4 76.6,739.3C73.6,741.3 68.8,742.3 66.7,741.3C64.6,740.3 63.4,736.4 63.7,733.4C64.1,730.5 66.5,727.2 68.7,723.6C70.8,720.0 74.6,715.4 76.6,711.7C78.5,708.1 80.0,705.2 80.5,701.9C81.0,698.6 79.2,695.6 79.5,692.0C79.8,688.4 81.7,683.8 82.5,680.2C83.3,676.6 83.8,673.6 84.4,670.3C85.1,667.0 87.1,664.1 86.4,660.5C85.8,656.8 82.8,651.6 80.5,648.6C78.2,645.7 74.9,645.0 72.6,642.7C70.3,640.4 68.3,637.8 66.7,634.8C65.1,631.9 64.1,628.6 62.8,625.0C61.4,621.3 60.3,616.1 58.8,613.1C57.3,610.2 54.2,609.5 53.9,607.2C53.5,604.9 56.0,602.6 56.8,599.3C57.7,596.0 57.5,591.1 58.8,587.5C60.1,583.9 62.1,581.2 64.7,577.6C67.4,574.0 71.3,568.7 74.6,565.8Z" fill="#1c8cd8" filter="url(#tDH)"/>
<path d="M210.5,544.1C212.0,542.9 215.9,544.2 218.2,543.5C220.6,542.7 222.3,540.4 224.6,539.6C227.0,538.9 229.5,539.0 232.3,539.0C235.1,539.0 239.1,538.5 241.3,539.6C243.4,540.7 243.8,543.1 245.1,545.4C246.4,547.6 247.1,550.9 249.0,553.1C250.9,555.2 254.3,557.1 256.7,558.2C259.0,559.3 261.6,558.2 263.1,559.5C264.6,560.8 264.1,564.6 265.6,565.9C267.1,567.2 271.8,566.3 272.1,567.2C272.3,568.0 268.2,569.5 266.9,571.0C265.6,572.5 265.4,574.4 264.4,576.2C263.3,577.9 262.0,579.6 260.5,581.3C259.0,583.0 256.9,584.9 255.4,586.4C253.9,587.9 253.0,589.4 251.5,590.3C250.0,591.1 248.3,591.1 246.4,591.5C244.5,592.0 241.5,591.8 240.0,592.8C238.5,593.9 238.5,596.2 237.4,597.9C236.4,599.7 234.1,601.4 233.6,603.1C233.1,604.8 233.4,606.5 234.2,608.2C235.1,609.9 237.1,611.6 238.7,613.3C240.3,615.0 242.1,616.8 243.8,618.5C245.6,620.2 247.9,621.7 249.0,623.6C250.0,625.5 250.9,627.9 250.3,630.0C249.6,632.1 246.6,634.5 245.1,636.4C243.6,638.3 241.9,639.6 241.3,641.5C240.6,643.5 241.9,646.2 241.3,647.9C240.6,649.7 238.7,651.6 237.4,651.8C236.2,652.0 234.7,650.9 233.6,649.2C232.5,647.5 232.3,643.0 231.0,641.5C229.7,640.0 227.8,640.3 225.9,640.3C224.0,640.3 221.6,640.7 219.5,641.5C217.4,642.4 215.0,643.7 213.1,645.4C211.2,647.1 209.7,650.1 207.9,651.8C206.2,653.5 204.1,655.6 202.8,655.6C201.5,655.6 200.5,653.3 200.3,651.8C200.0,650.3 200.5,648.4 201.5,646.7C202.6,645.0 204.7,643.5 206.7,641.5C208.6,639.6 211.8,637.5 213.1,635.1C214.4,632.8 213.8,630.0 214.4,627.4C214.9,624.9 215.5,622.3 216.3,619.7C217.0,617.2 218.1,614.4 218.8,612.1C219.6,609.7 220.7,607.8 220.8,605.6C220.9,603.5 220.6,600.3 219.5,599.2C218.4,598.2 216.1,600.1 214.4,599.2C212.6,598.4 210.7,596.2 209.2,594.1C207.7,592.0 206.1,588.5 205.4,586.4C204.6,584.3 204.1,582.8 204.7,581.3C205.4,579.8 208.3,579.1 209.2,577.4C210.2,575.7 210.5,573.4 210.5,571.0C210.5,568.7 209.7,565.7 209.2,563.3C208.8,561.0 207.9,559.1 207.9,556.9C207.9,554.8 208.8,552.6 209.2,550.5C209.7,548.4 209.0,545.3 210.5,544.1Z" fill="#239849" filter="url(#tD)"/>
<path d="M324.4,545.4C326.3,543.0 328.4,540.3 330.8,539.0C333.1,537.7 335.7,537.7 338.5,537.7C341.2,537.7 345.1,538.1 347.4,539.0C349.8,539.8 350.4,541.5 352.6,542.8C354.7,544.1 358.8,545.2 360.3,546.7C361.8,548.2 361.5,549.9 361.5,551.8C361.5,553.7 359.4,556.9 360.3,558.2C361.1,559.5 364.3,558.4 366.7,559.5C369.0,560.6 372.0,563.1 374.4,564.6C376.7,566.1 380.3,567.2 380.8,568.5C381.2,569.7 377.8,570.2 376.9,572.3C376.1,574.4 375.9,578.5 375.6,581.3C375.4,584.1 376.3,587.3 375.6,589.0C375.0,590.7 373.7,591.3 371.8,591.5C369.9,591.8 366.5,589.8 364.1,590.3C361.8,590.7 359.4,592.6 357.7,594.1C356.0,595.6 354.9,597.3 353.8,599.2C352.8,601.2 351.1,603.3 351.3,605.6C351.5,608.0 353.8,611.0 355.1,613.3C356.4,615.7 358.1,617.4 359.0,619.7C359.8,622.1 360.7,625.3 360.3,627.4C359.8,629.6 357.3,630.4 356.4,632.6C355.6,634.7 355.6,638.1 355.1,640.3C354.7,642.4 354.7,643.9 353.8,645.4C353.0,646.9 351.3,649.4 350.0,649.2C348.7,649.0 347.4,645.8 346.2,644.1C344.9,642.4 344.0,639.8 342.3,639.0C340.6,638.1 337.6,638.3 335.9,639.0C334.2,639.6 333.3,641.1 332.1,642.8C330.8,644.5 329.5,647.1 328.2,649.2C326.9,651.4 325.9,654.4 324.4,655.6C322.9,656.9 320.9,657.6 319.2,656.9C317.5,656.3 314.7,653.7 314.1,651.8C313.5,649.9 314.3,647.5 315.4,645.4C316.5,643.2 318.8,641.3 320.5,639.0C322.2,636.6 324.6,633.8 325.6,631.3C326.7,628.7 326.6,625.9 326.9,623.6C327.2,621.2 327.1,619.5 327.6,617.2C328.0,614.8 328.7,611.8 329.5,609.5C330.2,607.1 332.3,604.4 332.1,603.1C331.8,601.8 329.7,602.0 328.2,601.8C326.7,601.6 324.3,603.1 323.1,601.8C321.9,600.5 322.2,596.5 321.2,594.1C320.1,591.8 317.6,589.8 316.7,587.7C315.7,585.6 315.2,583.4 315.4,581.3C315.6,579.1 318.1,577.0 317.9,574.9C317.8,572.7 315.2,570.8 314.7,568.5C314.3,566.1 314.6,563.3 315.4,560.8C316.1,558.2 317.7,555.6 319.2,553.1C320.7,550.5 322.4,547.7 324.4,545.4Z" fill="#faf676" filter="url(#tL)"/>
<path d="M426.2,546.7C427.2,545.6 429.9,544.7 431.9,544.1C434.0,543.5 436.6,543.6 438.3,542.8C440.0,542.1 440.3,540.0 442.2,539.6C444.1,539.2 447.5,540.0 449.9,540.3C452.2,540.5 454.4,540.0 456.3,540.9C458.2,541.8 460.1,543.6 461.4,545.4C462.7,547.2 463.1,549.4 464.0,551.8C464.8,554.1 464.8,558.0 466.5,559.5C468.2,561.0 472.1,559.9 474.2,560.8C476.4,561.6 477.8,563.1 479.4,564.6C481.0,566.1 483.6,567.8 483.8,569.7C484.1,571.7 482.0,574.2 480.6,576.2C479.3,578.1 477.2,580.0 475.5,581.3C473.8,582.6 471.7,582.6 470.4,583.8C469.1,585.1 469.3,587.7 467.8,589.0C466.3,590.3 463.3,590.7 461.4,591.5C459.5,592.4 457.8,592.8 456.3,594.1C454.8,595.4 453.7,597.7 452.4,599.2C451.2,600.7 449.2,601.4 448.6,603.1C447.9,604.8 447.9,607.6 448.6,609.5C449.2,611.4 450.7,612.9 452.4,614.6C454.1,616.3 456.9,618.2 458.8,619.7C460.8,621.2 462.7,621.9 464.0,623.6C465.3,625.3 467.0,628.1 466.5,630.0C466.1,631.9 462.9,633.4 461.4,635.1C459.9,636.8 458.4,638.1 457.6,640.3C456.7,642.4 456.9,645.8 456.3,647.9C455.6,650.1 454.8,652.4 453.7,653.1C452.6,653.7 450.7,653.1 449.9,651.8C449.0,650.5 449.0,646.9 448.6,645.4C448.2,643.9 448.6,643.2 447.3,642.8C446.0,642.4 443.0,642.8 440.9,642.8C438.8,642.8 436.2,642.4 434.5,642.8C432.8,643.2 432.1,643.9 430.6,645.4C429.1,646.9 427.0,649.9 425.5,651.8C424.0,653.7 422.9,656.3 421.7,656.9C420.4,657.6 418.2,657.1 417.8,655.6C417.4,654.1 418.0,650.5 419.1,647.9C420.2,645.4 422.3,642.8 424.2,640.3C426.2,637.7 429.4,635.1 430.6,632.6C431.9,630.0 431.6,627.4 431.9,624.9C432.2,622.3 431.8,619.7 432.6,617.2C433.3,614.6 435.9,611.6 436.4,609.5C436.9,607.4 436.3,605.6 435.8,604.4C435.2,603.1 434.3,602.0 433.2,601.8C432.1,601.6 430.4,603.5 429.4,603.1C428.3,602.6 427.6,601.2 426.8,599.2C425.9,597.3 425.1,594.1 424.2,591.5C423.4,589.0 421.2,585.6 421.7,583.8C422.1,582.1 425.9,583.2 426.8,581.3C427.6,579.4 427.2,575.3 426.8,572.3C426.4,569.3 424.9,566.1 424.2,563.3C423.6,560.6 422.7,557.8 422.9,555.6C423.2,553.5 425.0,552.0 425.5,550.5C426.0,549.0 425.1,547.7 426.2,546.7Z" fill="#f47418" filter="url(#tS)"/>
<path d="M211.8,667.8C213.5,666.3 216.9,667.6 219.5,666.5C222.1,665.5 224.4,662.4 227.2,661.4C230.0,660.4 233.4,660.6 236.2,660.8C238.9,661.0 241.7,661.5 243.8,662.7C246.0,663.9 247.9,665.7 249.0,667.8C250.0,670.0 249.4,673.4 250.3,675.5C251.1,677.6 251.8,679.6 254.1,680.6C256.5,681.7 262.0,680.9 264.4,681.9C266.7,683.0 266.5,685.6 268.2,687.1C269.9,688.5 274.6,689.4 274.6,690.9C274.6,692.4 269.9,694.1 268.2,696.0C266.5,697.9 265.9,700.3 264.4,702.4C262.9,704.6 260.9,706.9 259.2,708.8C257.5,710.8 255.8,712.9 254.1,714.0C252.4,715.0 251.1,714.8 249.0,715.3C246.8,715.7 243.2,715.5 241.3,716.5C239.4,717.6 238.5,719.7 237.4,721.7C236.4,723.6 234.7,725.9 234.9,728.1C235.1,730.2 236.8,732.4 238.7,734.5C240.6,736.6 244.1,738.3 246.4,740.9C248.8,743.5 252.0,747.5 252.8,749.9C253.7,752.2 252.8,753.3 251.5,755.0C250.3,756.7 246.4,758.2 245.1,760.1C243.8,762.1 244.3,764.4 243.8,766.5C243.4,768.7 243.4,771.5 242.6,772.9C241.7,774.4 240.0,775.5 238.7,775.5C237.4,775.5 235.7,774.4 234.9,772.9C234.0,771.5 234.7,768.0 233.6,766.5C232.5,765.0 230.4,764.6 228.5,764.0C226.5,763.3 224.0,762.5 222.1,762.7C220.1,762.9 218.4,764.0 216.9,765.3C215.4,766.5 214.4,768.7 213.1,770.4C211.8,772.1 210.5,773.8 209.2,775.5C207.9,777.2 206.5,780.4 205.4,780.6C204.3,780.9 203.2,778.5 202.8,776.8C202.4,775.1 201.8,772.3 202.8,770.4C203.9,768.5 207.3,767.0 209.2,765.3C211.2,763.5 213.3,762.3 214.4,760.1C215.4,758.0 215.1,755.2 215.6,752.4C216.2,749.7 216.7,746.5 217.6,743.5C218.4,740.5 220.0,737.1 220.8,734.5C221.5,731.9 222.3,730.0 222.1,728.1C221.8,726.2 220.6,724.0 219.5,722.9C218.4,721.9 216.9,722.9 215.6,721.7C214.4,720.4 213.1,717.4 211.8,715.3C210.5,713.1 208.4,710.6 207.9,708.8C207.5,707.1 208.5,706.3 209.2,705.0C210.0,703.7 212.0,703.1 212.4,701.2C212.9,699.2 212.1,695.8 211.8,693.5C211.5,691.1 210.9,689.2 210.5,687.1C210.1,684.9 209.4,682.6 209.2,680.6C209.0,678.7 208.8,677.6 209.2,675.5C209.7,673.4 210.1,669.3 211.8,667.8Z" fill="#239849" filter="url(#tD)"/>
<path d="M324.4,666.5C326.1,664.4 329.5,662.4 332.1,661.4C334.6,660.4 337.2,660.6 339.7,660.8C342.3,661.0 345.3,661.7 347.4,662.7C349.6,663.7 350.9,665.5 352.6,666.5C354.3,667.6 356.4,667.8 357.7,669.1C359.0,670.4 359.8,672.5 360.3,674.2C360.7,675.9 359.2,677.9 360.3,679.4C361.3,680.9 364.5,681.9 366.7,683.2C368.8,684.5 370.7,685.8 373.1,687.1C375.4,688.3 380.1,689.6 380.8,690.9C381.4,692.2 377.8,693.0 376.9,694.7C376.1,696.5 375.9,698.6 375.6,701.2C375.4,703.7 376.1,707.8 375.6,710.1C375.2,712.5 374.6,714.4 373.1,715.3C371.6,716.1 368.6,714.8 366.7,715.3C364.7,715.7 363.2,716.8 361.5,717.8C359.8,718.9 358.1,720.2 356.4,721.7C354.7,723.2 351.9,724.9 351.3,726.8C350.6,728.7 351.7,731.1 352.6,733.2C353.4,735.3 355.1,737.3 356.4,739.6C357.7,742.0 359.8,744.7 360.3,747.3C360.7,749.9 359.8,752.6 359.0,755.0C358.1,757.4 355.6,759.5 355.1,761.4C354.7,763.3 356.6,764.8 356.4,766.5C356.2,768.2 354.9,770.6 353.8,771.7C352.8,772.7 351.1,773.6 350.0,772.9C348.9,772.3 348.5,769.3 347.4,767.8C346.4,766.3 345.3,764.8 343.6,764.0C341.9,763.1 339.3,762.5 337.2,762.7C335.0,762.9 332.7,764.0 330.8,765.3C328.8,766.5 327.1,768.2 325.6,770.4C324.1,772.5 322.9,775.9 321.8,778.1C320.7,780.2 320.3,783.2 319.2,783.2C318.2,783.2 315.6,780.0 315.4,778.1C315.2,776.2 316.9,773.8 317.9,771.7C319.0,769.5 320.5,767.4 321.8,765.3C323.1,763.1 324.8,761.0 325.6,758.8C326.5,756.7 326.5,754.8 326.9,752.4C327.4,750.1 327.6,747.3 328.2,744.7C328.8,742.2 330.2,739.4 330.8,737.1C331.3,734.7 331.4,732.8 331.4,730.6C331.4,728.5 331.7,725.7 330.8,724.2C329.8,722.7 327.1,722.5 325.6,721.7C324.1,720.8 322.6,720.2 321.8,719.1C320.9,718.0 320.5,716.5 320.5,715.3C320.5,714.0 322.2,712.9 321.8,711.4C321.4,709.9 318.8,708.2 317.9,706.3C317.1,704.4 317.1,702.2 316.7,699.9C316.2,697.5 315.8,694.1 315.4,692.2C315.0,690.3 313.7,690.3 314.1,688.3C314.5,686.4 316.7,683.0 317.9,680.6C319.2,678.3 320.7,676.6 321.8,674.2C322.9,671.9 322.6,668.7 324.4,666.5Z" fill="#faf676" filter="url(#tL)"/>
<path d="M425.5,670.4C427.0,669.1 430.9,670.2 433.2,669.1C435.6,668.0 437.1,665.0 439.6,664.0C442.2,662.9 445.8,662.5 448.6,662.7C451.4,662.9 454.1,664.0 456.3,665.3C458.4,666.5 460.3,668.2 461.4,670.4C462.5,672.5 461.4,676.2 462.7,678.1C464.0,680.0 466.8,680.9 469.1,681.9C471.5,683.0 474.4,682.8 476.8,684.5C479.1,686.2 482.4,690.0 483.2,692.2C484.1,694.3 482.8,695.6 481.9,697.3C481.1,699.0 479.6,700.9 478.1,702.4C476.6,703.9 474.4,705.0 472.9,706.3C471.5,707.6 470.4,708.8 469.1,710.1C467.8,711.4 467.0,713.1 465.3,714.0C463.5,714.8 460.8,714.4 458.8,715.3C456.9,716.1 455.2,717.4 453.7,719.1C452.2,720.8 450.7,723.6 449.9,725.5C449.0,727.4 447.9,728.7 448.6,730.6C449.2,732.6 452.0,734.9 453.7,737.1C455.4,739.2 456.9,741.3 458.8,743.5C460.8,745.6 464.2,747.7 465.3,749.9C466.3,752.0 466.3,754.4 465.3,756.3C464.2,758.2 460.3,759.5 458.8,761.4C457.4,763.3 456.9,765.7 456.3,767.8C455.6,770.0 455.9,772.8 455.0,774.2C454.1,775.6 452.3,776.4 451.2,776.2C450.0,775.9 448.6,774.6 447.9,772.9C447.3,771.3 448.3,768.0 447.3,766.5C446.3,765.0 444.1,764.2 442.2,764.0C440.3,763.8 437.7,764.6 435.8,765.3C433.8,765.9 432.4,766.5 430.6,767.8C428.9,769.1 427.2,771.2 425.5,772.9C423.8,774.7 421.8,777.0 420.4,778.1C419.0,779.1 417.8,780.0 417.2,779.4C416.5,778.7 415.8,776.2 416.5,774.2C417.3,772.3 420.0,770.2 421.7,767.8C423.4,765.5 425.3,762.7 426.8,760.1C428.3,757.6 429.8,755.0 430.6,752.4C431.5,749.9 431.4,747.3 431.9,744.7C432.5,742.2 433.2,739.4 433.8,737.1C434.5,734.7 435.4,732.6 435.8,730.6C436.1,728.7 436.4,727.0 435.8,725.5C435.1,724.0 433.2,723.2 431.9,721.7C430.6,720.2 429.1,718.5 428.1,716.5C427.0,714.6 425.7,712.3 425.5,710.1C425.3,708.0 426.8,706.1 426.8,703.7C426.8,701.4 425.9,698.6 425.5,696.0C425.1,693.5 424.9,690.7 424.2,688.3C423.6,686.0 421.7,683.8 421.7,681.9C421.7,680.0 423.6,678.7 424.2,676.8C424.9,674.9 424.0,671.7 425.5,670.4Z" fill="#f8781a" filter="url(#tM)"/>
<path d="M63.2,855.8C63.5,851.6 63.5,847.0 65.3,843.3C67.0,839.6 70.8,836.1 73.6,833.6C76.4,831.0 79.6,829.3 81.9,828.0C84.2,826.8 85.8,825.7 87.5,826.0C89.1,826.2 90.7,827.5 91.6,829.4C92.5,831.4 92.7,835.0 93.0,837.7C93.4,840.5 93.2,846.1 93.7,846.1C94.2,846.1 95.2,840.8 95.8,837.7C96.4,834.7 96.2,830.5 97.2,828.0C98.1,825.6 99.7,824.2 101.3,823.2C103.0,822.1 105.0,821.4 106.9,821.8C108.7,822.1 111.2,823.5 112.4,825.3C113.7,827.0 113.9,829.2 114.5,832.2C115.2,835.2 115.6,843.1 116.3,843.3C117.0,843.5 117.9,836.4 118.7,833.6C119.4,830.8 119.3,828.4 120.8,826.6C122.3,824.9 125.6,823.4 127.7,823.2C129.8,822.9 131.7,824.1 133.2,825.3C134.7,826.4 135.1,829.2 136.7,830.1C138.3,831.0 140.8,830.0 143.0,830.8C145.1,831.6 148.0,833.1 149.9,835.0C151.7,836.8 152.9,839.1 154.1,841.9C155.2,844.7 155.9,848.2 156.8,851.6C157.8,855.1 159.6,859.5 159.6,862.7C159.6,866.0 157.5,867.8 156.8,871.0C156.1,874.3 155.9,878.4 155.4,882.1C155.0,885.8 154.5,890.0 154.1,893.2C153.6,896.5 153.4,898.8 152.7,901.6C152.0,904.3 151.0,907.1 149.9,909.9C148.7,912.7 147.1,915.7 145.7,918.2C144.3,920.8 142.7,923.1 141.6,925.1C140.4,927.2 140.2,929.3 138.8,930.7C137.4,932.1 135.6,933.0 133.2,933.5C130.9,933.9 126.9,933.9 124.9,933.5C123.0,933.0 122.3,932.8 121.4,930.7C120.6,928.6 120.5,921.2 120.1,921.0C119.6,920.8 119.3,927.0 118.7,929.3C118.1,931.6 117.9,933.4 116.6,934.9C115.3,936.4 112.9,937.8 111.0,938.3C109.2,938.9 107.3,938.7 105.5,938.3C103.6,938.0 101.3,937.5 99.9,936.2C98.6,935.0 97.9,934.2 97.2,930.7C96.5,927.2 96.2,916.1 95.8,915.4C95.4,914.7 95.4,924.2 94.7,926.5C94.0,928.8 93.1,928.8 91.6,929.3C90.2,929.8 87.9,929.8 86.1,929.3C84.2,928.8 82.1,927.9 80.5,926.5C78.9,925.1 77.5,923.3 76.4,921.0C75.2,918.7 74.7,915.2 73.6,912.7C72.4,910.1 70.6,908.0 69.4,905.7C68.3,903.4 67.3,901.3 66.6,898.8C66.0,896.2 65.7,893.7 65.3,890.5C64.8,887.2 64.2,883.1 63.9,879.4C63.5,875.7 63.3,872.2 63.2,868.3C63.1,864.3 62.8,859.9 63.2,855.8Z" fill="#1c8cd8" filter="url(#tF)"/>
<path d="M192.9,804.1C195.4,801.7 199.9,798.0 203.1,796.4C206.2,794.9 208.8,795.1 212.0,794.5C215.1,794.0 219.6,793.1 222.1,793.3C224.7,793.5 225.3,795.6 227.2,795.8C229.1,796.0 231.0,794.4 233.6,794.5C236.1,794.6 239.5,795.1 242.5,796.4C245.4,797.8 248.6,800.5 251.4,802.8C254.1,805.1 256.7,807.5 259.0,810.4C261.3,813.4 263.7,817.4 265.4,820.6C267.1,823.8 268.2,826.5 269.2,829.5C270.1,832.5 271.1,835.2 271.1,838.4C271.1,841.6 269.9,845.4 269.2,848.6C268.4,851.8 267.7,854.5 266.6,857.5C265.6,860.4 264.5,863.6 262.8,866.4C261.1,869.1 258.8,871.7 256.5,874.0C254.1,876.3 251.6,878.5 248.8,880.4C246.1,882.3 242.9,884.3 239.9,885.5C237.0,886.6 233.8,886.9 231.0,887.4C228.3,887.8 226.2,888.3 223.4,888.0C220.7,887.7 217.5,886.5 214.5,885.5C211.5,884.4 208.6,883.3 205.6,881.6C202.6,879.9 199.0,877.6 196.7,875.3C194.4,873.0 193.3,870.0 191.6,867.7C189.9,865.3 188.5,863.6 186.5,861.3C184.5,859.0 180.9,856.4 179.5,853.7C178.2,850.9 178.3,847.7 178.3,844.8C178.3,841.8 179.3,839.0 179.5,835.9C179.7,832.7 179.0,828.9 179.5,825.7C180.1,822.5 181.3,819.3 182.7,816.8C184.1,814.2 186.1,812.6 187.8,810.4C189.5,808.3 190.3,806.4 192.9,804.1Z" fill="#239849" filter="url(#tF)"/>
<path d="M303.5,804.7C306.0,802.4 310.2,798.9 313.3,797.3C316.3,795.8 318.8,796.0 321.8,795.5C324.9,795.0 329.1,794.1 331.6,794.3C334.0,794.5 334.6,796.5 336.4,796.7C338.3,796.9 340.1,795.4 342.5,795.5C345.0,795.6 348.2,796.0 351.1,797.3C353.9,798.7 357.0,801.2 359.6,803.4C362.2,805.7 364.7,807.9 366.9,810.8C369.2,813.6 371.4,817.5 373.0,820.5C374.6,823.6 375.8,826.2 376.7,829.0C377.6,831.9 378.5,834.5 378.5,837.6C378.5,840.6 377.4,844.3 376.7,847.3C376.0,850.4 375.2,853.0 374.2,855.8C373.2,858.7 372.2,861.7 370.6,864.4C368.9,867.0 366.7,869.5 364.5,871.7C362.2,873.9 359.8,876.0 357.2,877.8C354.5,879.6 351.5,881.5 348.6,882.7C345.8,883.8 342.7,884.1 340.1,884.5C337.5,884.9 335.4,885.4 332.8,885.1C330.1,884.8 327.1,883.7 324.2,882.7C321.4,881.6 318.6,880.6 315.7,879.0C312.9,877.4 309.4,875.1 307.2,872.9C304.9,870.7 303.9,867.8 302.3,865.6C300.7,863.4 299.4,861.7 297.4,859.5C295.5,857.3 292.0,854.8 290.7,852.2C289.4,849.6 289.5,846.5 289.5,843.7C289.5,840.8 290.5,838.2 290.7,835.1C290.9,832.1 290.2,828.4 290.7,825.4C291.2,822.3 292.4,819.3 293.8,816.8C295.1,814.4 297.0,812.8 298.6,810.8C300.3,808.7 301.1,806.9 303.5,804.7Z" fill="#faf676" filter="url(#tFL)"/>
<path d="M410.9,803.7C413.3,801.4 417.5,797.9 420.6,796.3C423.6,794.8 426.0,795.0 429.0,794.5C432.0,794.0 436.3,793.1 438.7,793.3C441.1,793.5 441.7,795.5 443.5,795.7C445.3,795.9 447.1,794.4 449.6,794.5C452.0,794.6 455.2,795.0 458.0,796.3C460.8,797.7 463.9,800.2 466.5,802.4C469.1,804.7 471.5,806.9 473.7,809.8C475.9,812.6 478.2,816.5 479.8,819.5C481.4,822.6 482.5,825.2 483.4,828.0C484.3,830.9 485.2,833.5 485.2,836.6C485.2,839.6 484.1,843.3 483.4,846.3C482.7,849.4 482.0,852.0 481.0,854.8C480.0,857.7 479.0,860.7 477.3,863.4C475.7,866.0 473.5,868.5 471.3,870.7C469.1,872.9 466.7,875.0 464.1,876.8C461.4,878.6 458.4,880.5 455.6,881.7C452.8,882.8 449.8,883.1 447.1,883.5C444.5,883.9 442.5,884.4 439.9,884.1C437.3,883.8 434.3,882.7 431.4,881.7C428.6,880.6 425.8,879.6 423.0,878.0C420.2,876.4 416.7,874.1 414.5,871.9C412.3,869.7 411.3,866.8 409.7,864.6C408.1,862.4 406.8,860.7 404.9,858.5C402.9,856.3 399.5,853.8 398.2,851.2C396.9,848.6 397.0,845.5 397.0,842.7C397.0,839.8 398.0,837.2 398.2,834.1C398.4,831.1 397.7,827.4 398.2,824.4C398.7,821.3 399.9,818.3 401.2,815.8C402.5,813.4 404.5,811.8 406.1,809.8C407.7,807.7 408.5,805.9 410.9,803.7Z" fill="#f67618" filter="url(#tO4)"/>
<path d="M191.2,911.2C193.8,908.8 198.3,905.0 201.5,903.4C204.7,901.8 207.3,902.0 210.5,901.5C213.7,901.0 218.2,900.0 220.8,900.2C223.4,900.4 224.0,902.6 226.0,902.8C227.9,903.0 229.8,901.4 232.4,901.5C235.0,901.6 238.4,902.0 241.4,903.4C244.4,904.8 247.7,907.5 250.4,909.9C253.2,912.2 255.8,914.6 258.2,917.6C260.5,920.6 262.9,924.7 264.6,927.9C266.3,931.1 267.5,933.9 268.5,936.9C269.4,939.9 270.4,942.7 270.4,945.9C270.4,949.2 269.2,953.0 268.5,956.3C267.7,959.5 267.0,962.3 265.9,965.3C264.8,968.3 263.7,971.5 262.0,974.3C260.3,977.1 258.0,979.7 255.6,982.0C253.2,984.4 250.7,986.5 247.9,988.5C245.1,990.4 241.9,992.4 238.9,993.6C235.8,994.8 232.6,995.1 229.8,995.6C227.0,996.0 224.9,996.5 222.1,996.2C219.3,995.9 216.1,994.7 213.1,993.6C210.1,992.5 207.1,991.5 204.1,989.8C201.1,988.0 197.4,985.7 195.1,983.3C192.7,981.0 191.6,977.9 189.9,975.6C188.2,973.2 186.8,971.5 184.8,969.1C182.7,966.8 179.1,964.2 177.7,961.4C176.3,958.6 176.4,955.4 176.4,952.4C176.4,949.4 177.5,946.6 177.7,943.4C177.9,940.1 177.2,936.3 177.7,933.1C178.2,929.8 179.5,926.6 180.9,924.0C182.3,921.5 184.3,919.7 186.1,917.6C187.8,915.4 188.6,913.5 191.2,911.2Z" fill="#239849" filter="url(#tF)"/>
<path d="M302.6,913.4C305.1,911.1 309.4,907.4 312.6,905.9C315.7,904.3 318.2,904.5 321.3,904.0C324.4,903.4 328.7,902.5 331.2,902.7C333.7,902.9 334.3,905.0 336.2,905.2C338.1,905.4 339.9,903.9 342.4,904.0C344.9,904.1 348.2,904.5 351.1,905.9C354.0,907.2 357.1,909.8 359.8,912.2C362.5,914.5 365.0,916.8 367.3,919.7C369.6,922.7 371.8,926.7 373.5,929.8C375.2,933.0 376.3,935.7 377.2,938.7C378.2,941.6 379.1,944.3 379.1,947.5C379.1,950.6 378.0,954.4 377.2,957.6C376.5,960.7 375.8,963.5 374.7,966.4C373.7,969.4 372.7,972.5 371.0,975.3C369.4,978.0 367.1,980.5 364.8,982.8C362.5,985.1 360.0,987.2 357.3,989.1C354.6,991.0 351.5,993.0 348.6,994.2C345.7,995.3 342.6,995.6 339.9,996.1C337.2,996.5 335.2,997.0 332.5,996.7C329.8,996.4 326.7,995.2 323.7,994.2C320.8,993.1 317.9,992.1 315.0,990.4C312.1,988.7 308.6,986.4 306.3,984.1C304.1,981.8 303.0,978.8 301.4,976.5C299.7,974.2 298.4,972.5 296.4,970.2C294.4,967.9 290.9,965.4 289.5,962.6C288.2,959.9 288.3,956.7 288.3,953.8C288.3,950.9 289.3,948.1 289.5,945.0C289.8,941.8 289.0,938.0 289.5,934.9C290.1,931.7 291.3,928.6 292.7,926.0C294.0,923.5 296.0,921.8 297.6,919.7C299.3,917.6 300.1,915.7 302.6,913.4Z" fill="#eae66a" filter="url(#tFL)"/>
<path d="M412.3,913.9C414.8,911.6 419.1,908.0 422.1,906.5C425.2,904.9 427.7,905.1 430.7,904.6C433.8,904.1 438.1,903.2 440.5,903.4C443.0,903.6 443.6,905.7 445.5,905.9C447.3,906.1 449.1,904.5 451.6,904.6C454.0,904.7 457.3,905.1 460.2,906.5C463.0,907.8 466.1,910.4 468.8,912.7C471.4,914.9 473.9,917.2 476.1,920.1C478.4,923.0 480.6,926.9 482.3,930.0C483.9,933.0 485.0,935.7 486.0,938.6C486.9,941.5 487.8,944.2 487.8,947.2C487.8,950.3 486.7,954.0 486.0,957.1C485.2,960.2 484.5,962.9 483.5,965.8C482.5,968.6 481.5,971.7 479.8,974.4C478.2,977.1 475.9,979.6 473.7,981.8C471.4,984.1 469.0,986.1 466.3,988.0C463.7,989.8 460.6,991.8 457.7,992.9C454.9,994.1 451.8,994.4 449.1,994.8C446.5,995.2 444.4,995.7 441.8,995.4C439.1,995.1 436.0,994.0 433.2,992.9C430.3,991.9 427.5,990.9 424.6,989.2C421.7,987.6 418.2,985.3 416.0,983.1C413.7,980.8 412.7,977.9 411.1,975.6C409.5,973.4 408.1,971.7 406.2,969.5C404.2,967.2 400.8,964.7 399.4,962.1C398.1,959.4 398.2,956.3 398.2,953.4C398.2,950.5 399.2,947.9 399.4,944.8C399.6,941.7 398.9,938.0 399.4,934.9C399.9,931.8 401.2,928.7 402.5,926.2C403.8,923.8 405.8,922.1 407.4,920.1C409.0,918.0 409.9,916.2 412.3,913.9Z" fill="#f07018" filter="url(#tF)"/>
<clipPath id="cp_g4t"><path d="M192.9,804.1C195.4,801.7 199.9,798.0 203.1,796.4C206.2,794.9 208.8,795.1 212.0,794.5C215.1,794.0 219.6,793.1 222.1,793.3C224.7,793.5 225.3,795.6 227.2,795.8C229.1,796.0 231.0,794.4 233.6,794.5C236.1,794.6 239.5,795.1 242.5,796.4C245.4,797.8 248.6,800.5 251.4,802.8C254.1,805.1 256.7,807.5 259.0,810.4C261.3,813.4 263.7,817.4 265.4,820.6C267.1,823.8 268.2,826.5 269.2,829.5C270.1,832.5 271.1,835.2 271.1,838.4C271.1,841.6 269.9,845.4 269.2,848.6C268.4,851.8 267.7,854.5 266.6,857.5C265.6,860.4 264.5,863.6 262.8,866.4C261.1,869.1 258.8,871.7 256.5,874.0C254.1,876.3 251.6,878.5 248.8,880.4C246.1,882.3 242.9,884.3 239.9,885.5C237.0,886.6 233.8,886.9 231.0,887.4C228.3,887.8 226.2,888.3 223.4,888.0C220.7,887.7 217.5,886.5 214.5,885.5C211.5,884.4 208.6,883.3 205.6,881.6C202.6,879.9 199.0,877.6 196.7,875.3C194.4,873.0 193.3,870.0 191.6,867.7C189.9,865.3 188.5,863.6 186.5,861.3C184.5,859.0 180.9,856.4 179.5,853.7C178.2,850.9 178.3,847.7 178.3,844.8C178.3,841.8 179.3,839.0 179.5,835.9C179.7,832.7 179.0,828.9 179.5,825.7C180.1,822.5 181.3,819.3 182.7,816.8C184.1,814.2 186.1,812.6 187.8,810.4C189.5,808.3 190.3,806.4 192.9,804.1Z"/></clipPath>
<g clip-path="url(#cp_g4t)">
<ellipse cx="224.7" cy="840.6" rx="46.4" ry="47.4" fill="url(#sphg)"/>
<path d="M197.3,806.5 Q195.9,843.0 215.9,878.5 M245.6,816.9 Q264.1,843.0 245.6,872.8" stroke="#000" stroke-opacity="0.16" stroke-width="7.4" fill="none" filter="url(#blur2)"/>
</g>
<clipPath id="cp_y4t"><path d="M303.5,804.7C306.0,802.4 310.2,798.9 313.3,797.3C316.3,795.8 318.8,796.0 321.8,795.5C324.9,795.0 329.1,794.1 331.6,794.3C334.0,794.5 334.6,796.5 336.4,796.7C338.3,796.9 340.1,795.4 342.5,795.5C345.0,795.6 348.2,796.0 351.1,797.3C353.9,798.7 357.0,801.2 359.6,803.4C362.2,805.7 364.7,807.9 366.9,810.8C369.2,813.6 371.4,817.5 373.0,820.5C374.6,823.6 375.8,826.2 376.7,829.0C377.6,831.9 378.5,834.5 378.5,837.6C378.5,840.6 377.4,844.3 376.7,847.3C376.0,850.4 375.2,853.0 374.2,855.8C373.2,858.7 372.2,861.7 370.6,864.4C368.9,867.0 366.7,869.5 364.5,871.7C362.2,873.9 359.8,876.0 357.2,877.8C354.5,879.6 351.5,881.5 348.6,882.7C345.8,883.8 342.7,884.1 340.1,884.5C337.5,884.9 335.4,885.4 332.8,885.1C330.1,884.8 327.1,883.7 324.2,882.7C321.4,881.6 318.6,880.6 315.7,879.0C312.9,877.4 309.4,875.1 307.2,872.9C304.9,870.7 303.9,867.8 302.3,865.6C300.7,863.4 299.4,861.7 297.4,859.5C295.5,857.3 292.0,854.8 290.7,852.2C289.4,849.6 289.5,846.5 289.5,843.7C289.5,840.8 290.5,838.2 290.7,835.1C290.9,832.1 290.2,828.4 290.7,825.4C291.2,822.3 292.4,819.3 293.8,816.8C295.1,814.4 297.0,812.8 298.6,810.8C300.3,808.7 301.1,806.9 303.5,804.7Z"/></clipPath>
<g clip-path="url(#cp_y4t)">
<ellipse cx="334" cy="839.7" rx="44.5" ry="45.4" fill="url(#sphg)"/>
<path d="M307.7,807.0 Q306.4,842.0 325.5,876.0 M354.0,817.0 Q371.8,842.0 354.0,870.6" stroke="#000" stroke-opacity="0.16" stroke-width="7.1" fill="none" filter="url(#blur2)"/>
</g>
<clipPath id="cp_o4t"><path d="M410.9,803.7C413.3,801.4 417.5,797.9 420.6,796.3C423.6,794.8 426.0,795.0 429.0,794.5C432.0,794.0 436.3,793.1 438.7,793.3C441.1,793.5 441.7,795.5 443.5,795.7C445.3,795.9 447.1,794.4 449.6,794.5C452.0,794.6 455.2,795.0 458.0,796.3C460.8,797.7 463.9,800.2 466.5,802.4C469.1,804.7 471.5,806.9 473.7,809.8C475.9,812.6 478.2,816.5 479.8,819.5C481.4,822.6 482.5,825.2 483.4,828.0C484.3,830.9 485.2,833.5 485.2,836.6C485.2,839.6 484.1,843.3 483.4,846.3C482.7,849.4 482.0,852.0 481.0,854.8C480.0,857.7 479.0,860.7 477.3,863.4C475.7,866.0 473.5,868.5 471.3,870.7C469.1,872.9 466.7,875.0 464.1,876.8C461.4,878.6 458.4,880.5 455.6,881.7C452.8,882.8 449.8,883.1 447.1,883.5C444.5,883.9 442.5,884.4 439.9,884.1C437.3,883.8 434.3,882.7 431.4,881.7C428.6,880.6 425.8,879.6 423.0,878.0C420.2,876.4 416.7,874.1 414.5,871.9C412.3,869.7 411.3,866.8 409.7,864.6C408.1,862.4 406.8,860.7 404.9,858.5C402.9,856.3 399.5,853.8 398.2,851.2C396.9,848.6 397.0,845.5 397.0,842.7C397.0,839.8 398.0,837.2 398.2,834.1C398.4,831.1 397.7,827.4 398.2,824.4C398.7,821.3 399.9,818.3 401.2,815.8C402.5,813.4 404.5,811.8 406.1,809.8C407.7,807.7 408.5,805.9 410.9,803.7Z"/></clipPath>
<g clip-path="url(#cp_o4t)">
<ellipse cx="441.1" cy="838.7" rx="44.1" ry="45.4" fill="url(#sphg)"/>
<path d="M415.1,806.0 Q413.8,841.0 432.7,875.0 M460.9,816.0 Q478.6,841.0 460.9,869.6" stroke="#000" stroke-opacity="0.16" stroke-width="7.1" fill="none" filter="url(#blur2)"/>
</g>
<clipPath id="cp_g4g"><path d="M191.2,911.2C193.8,908.8 198.3,905.0 201.5,903.4C204.7,901.8 207.3,902.0 210.5,901.5C213.7,901.0 218.2,900.0 220.8,900.2C223.4,900.4 224.0,902.6 226.0,902.8C227.9,903.0 229.8,901.4 232.4,901.5C235.0,901.6 238.4,902.0 241.4,903.4C244.4,904.8 247.7,907.5 250.4,909.9C253.2,912.2 255.8,914.6 258.2,917.6C260.5,920.6 262.9,924.7 264.6,927.9C266.3,931.1 267.5,933.9 268.5,936.9C269.4,939.9 270.4,942.7 270.4,945.9C270.4,949.2 269.2,953.0 268.5,956.3C267.7,959.5 267.0,962.3 265.9,965.3C264.8,968.3 263.7,971.5 262.0,974.3C260.3,977.1 258.0,979.7 255.6,982.0C253.2,984.4 250.7,986.5 247.9,988.5C245.1,990.4 241.9,992.4 238.9,993.6C235.8,994.8 232.6,995.1 229.8,995.6C227.0,996.0 224.9,996.5 222.1,996.2C219.3,995.9 216.1,994.7 213.1,993.6C210.1,992.5 207.1,991.5 204.1,989.8C201.1,988.0 197.4,985.7 195.1,983.3C192.7,981.0 191.6,977.9 189.9,975.6C188.2,973.2 186.8,971.5 184.8,969.1C182.7,966.8 179.1,964.2 177.7,961.4C176.3,958.6 176.4,955.4 176.4,952.4C176.4,949.4 177.5,946.6 177.7,943.4C177.9,940.1 177.2,936.3 177.7,933.1C178.2,929.8 179.5,926.6 180.9,924.0C182.3,921.5 184.3,919.7 186.1,917.6C187.8,915.4 188.6,913.5 191.2,911.2Z"/></clipPath>
<g clip-path="url(#cp_g4g)">
<ellipse cx="223.4" cy="948.2" rx="47" ry="48" fill="url(#sphg)"/>
<path d="M195.7,913.6 Q194.3,950.6 214.5,986.6 M244.6,924.2 Q263.4,950.6 244.6,980.8" stroke="#000" stroke-opacity="0.16" stroke-width="7.5" fill="none" filter="url(#blur2)"/>
</g>
<clipPath id="cp_y4g"><path d="M302.6,913.4C305.1,911.1 309.4,907.4 312.6,905.9C315.7,904.3 318.2,904.5 321.3,904.0C324.4,903.4 328.7,902.5 331.2,902.7C333.7,902.9 334.3,905.0 336.2,905.2C338.1,905.4 339.9,903.9 342.4,904.0C344.9,904.1 348.2,904.5 351.1,905.9C354.0,907.2 357.1,909.8 359.8,912.2C362.5,914.5 365.0,916.8 367.3,919.7C369.6,922.7 371.8,926.7 373.5,929.8C375.2,933.0 376.3,935.7 377.2,938.7C378.2,941.6 379.1,944.3 379.1,947.5C379.1,950.6 378.0,954.4 377.2,957.6C376.5,960.7 375.8,963.5 374.7,966.4C373.7,969.4 372.7,972.5 371.0,975.3C369.4,978.0 367.1,980.5 364.8,982.8C362.5,985.1 360.0,987.2 357.3,989.1C354.6,991.0 351.5,993.0 348.6,994.2C345.7,995.3 342.6,995.6 339.9,996.1C337.2,996.5 335.2,997.0 332.5,996.7C329.8,996.4 326.7,995.2 323.7,994.2C320.8,993.1 317.9,992.1 315.0,990.4C312.1,988.7 308.6,986.4 306.3,984.1C304.1,981.8 303.0,978.8 301.4,976.5C299.7,974.2 298.4,972.5 296.4,970.2C294.4,967.9 290.9,965.4 289.5,962.6C288.2,959.9 288.3,956.7 288.3,953.8C288.3,950.9 289.3,948.1 289.5,945.0C289.8,941.8 289.0,938.0 289.5,934.9C290.1,931.7 291.3,928.6 292.7,926.0C294.0,923.5 296.0,921.8 297.6,919.7C299.3,917.6 300.1,915.7 302.6,913.4Z"/></clipPath>
<g clip-path="url(#cp_y4g)">
<ellipse cx="333.7" cy="949.7" rx="45.4" ry="47" fill="url(#sphg)"/>
<path d="M306.9,915.9 Q305.6,952.1 325.1,987.3 M354.1,926.2 Q372.3,952.1 354.1,981.7" stroke="#000" stroke-opacity="0.16" stroke-width="7.3" fill="none" filter="url(#blur2)"/>
</g>
<clipPath id="cp_o4g"><path d="M412.3,913.9C414.8,911.6 419.1,908.0 422.1,906.5C425.2,904.9 427.7,905.1 430.7,904.6C433.8,904.1 438.1,903.2 440.5,903.4C443.0,903.6 443.6,905.7 445.5,905.9C447.3,906.1 449.1,904.5 451.6,904.6C454.0,904.7 457.3,905.1 460.2,906.5C463.0,907.8 466.1,910.4 468.8,912.7C471.4,914.9 473.9,917.2 476.1,920.1C478.4,923.0 480.6,926.9 482.3,930.0C483.9,933.0 485.0,935.7 486.0,938.6C486.9,941.5 487.8,944.2 487.8,947.2C487.8,950.3 486.7,954.0 486.0,957.1C485.2,960.2 484.5,962.9 483.5,965.8C482.5,968.6 481.5,971.7 479.8,974.4C478.2,977.1 475.9,979.6 473.7,981.8C471.4,984.1 469.0,986.1 466.3,988.0C463.7,989.8 460.6,991.8 457.7,992.9C454.9,994.1 451.8,994.4 449.1,994.8C446.5,995.2 444.4,995.7 441.8,995.4C439.1,995.1 436.0,994.0 433.2,992.9C430.3,991.9 427.5,990.9 424.6,989.2C421.7,987.6 418.2,985.3 416.0,983.1C413.7,980.8 412.7,977.9 411.1,975.6C409.5,973.4 408.1,971.7 406.2,969.5C404.2,967.2 400.8,964.7 399.4,962.1C398.1,959.4 398.2,956.3 398.2,953.4C398.2,950.5 399.2,947.9 399.4,944.8C399.6,941.7 398.9,938.0 399.4,934.9C399.9,931.8 401.2,928.7 402.5,926.2C403.8,923.8 405.8,922.1 407.4,920.1C409.0,918.0 409.9,916.2 412.3,913.9Z"/></clipPath>
<g clip-path="url(#cp_o4g)">
<ellipse cx="443" cy="949.4" rx="44.8" ry="46" fill="url(#sphg)"/>
<path d="M416.6,916.3 Q415.2,951.7 434.5,986.2 M463.2,926.4 Q481.1,951.7 463.2,980.7" stroke="#000" stroke-opacity="0.16" stroke-width="7.2" fill="none" filter="url(#blur2)"/>
</g>
<ellipse cx="221" cy="312" rx="1.3" ry="3.5" fill="#fff" opacity="0.9" transform="rotate(0 221 312)"/>
<ellipse cx="220.6" cy="319" rx="0.8" ry="6" fill="#aaa" opacity="0.6" transform="rotate(0 220.6 319)"/>
<ellipse cx="226" cy="435" rx="1.5" ry="5" fill="#fff" opacity="0.9" transform="rotate(0 226 435)"/>
<ellipse cx="225.5" cy="443" rx="0.9" ry="6" fill="#999" opacity="0.6" transform="rotate(0 225.5 443)"/>
<ellipse cx="335.1" cy="439" rx="1.2" ry="4" fill="#fff" opacity="0.8" transform="rotate(0 335.1 439)"/>
<ellipse cx="445.7" cy="435" rx="2.2" ry="7" fill="#fff" opacity="0.95" transform="rotate(0 445.7 435)"/>
<ellipse cx="445.2" cy="311.5" rx="2" ry="7" fill="#fff" opacity="0.9" transform="rotate(0 445.2 311.5)"/>
<ellipse cx="106.5" cy="390" rx="5" ry="9" fill="#2a4050" opacity="0.4" transform="rotate(0 106.5 390)"/>
<ellipse cx="107" cy="853" rx="7.5" ry="19" fill="#3a4550" opacity="0.45" transform="rotate(0 107 853)"/>
<path d="M95.1,847.5 L95.8,912.7 M116.6,844.7 L119.4,919.6" stroke="#0a2a45" stroke-width="2.5" opacity="0.45" fill="none"/>
<ellipse cx="222.5" cy="818" rx="2" ry="13" fill="#4a5550" opacity="0.3" transform="rotate(8 222.5 818)"/>
<ellipse cx="333" cy="815" rx="2" ry="13" fill="#4a5550" opacity="0.3" transform="rotate(8 333 815)"/>
<ellipse cx="441" cy="818" rx="2" ry="13" fill="#4a5550" opacity="0.3" transform="rotate(8 441 818)"/>
<ellipse cx="221.5" cy="925" rx="2" ry="13" fill="#4a5550" opacity="0.3" transform="rotate(8 221.5 925)"/>
<ellipse cx="333" cy="925" rx="2" ry="13" fill="#4a5550" opacity="0.3" transform="rotate(8 333 925)"/>
<ellipse cx="443" cy="925" rx="2" ry="13" fill="#4a5550" opacity="0.3" transform="rotate(8 443 925)"/>
<ellipse cx="436.6" cy="82.8" rx="2" ry="1.5" fill="#3a1a05" opacity="0.8" transform="rotate(0 436.6 82.8)"/>
<ellipse cx="463.5" cy="88.3" rx="1.8" ry="1.5" fill="#3a1a05" opacity="0.8" transform="rotate(0 463.5 88.3)"/>
<ellipse cx="459.4" cy="96.6" rx="2" ry="1.6" fill="#3a1a05" opacity="0.8" transform="rotate(0 459.4 96.6)"/>
<ellipse cx="422.1" cy="122.9" rx="3" ry="1.6" fill="#3a1a05" opacity="0.8" transform="rotate(0 422.1 122.9)"/>
<ellipse cx="447.6" cy="34" rx="1.2" ry="12" fill="#3a1a05" opacity="0.8" transform="rotate(0 447.6 34)"/>
<ellipse cx="461" cy="60" rx="1" ry="6" fill="#3a1a05" opacity="0.8" transform="rotate(0 461 60)"/>
<ellipse cx="434" cy="298" rx="2.2" ry="2" fill="#3a1a05" opacity="0.8" transform="rotate(0 434 298)"/>
<ellipse cx="426" cy="306" rx="2" ry="2" fill="#3a1a05" opacity="0.8" transform="rotate(0 426 306)"/>
<ellipse cx="418" cy="324" rx="2.5" ry="2" fill="#3a1a05" opacity="0.8" transform="rotate(0 418 324)"/>
<ellipse cx="448" cy="339" rx="2" ry="2.5" fill="#3a1a05" opacity="0.8" transform="rotate(0 448 339)"/>
<ellipse cx="467" cy="326" rx="2" ry="2" fill="#3a1a05" opacity="0.8" transform="rotate(0 467 326)"/>
<ellipse cx="470" cy="357" rx="1.5" ry="5" fill="#3a1a05" opacity="0.8" transform="rotate(0 470 357)"/>
<ellipse cx="454" cy="372" rx="1.5" ry="4" fill="#3a1a05" opacity="0.8" transform="rotate(0 454 372)"/>
<ellipse cx="438" cy="365" rx="1.5" ry="4" fill="#3a1a05" opacity="0.8" transform="rotate(0 438 365)"/>
<ellipse cx="455" cy="560" rx="1.5" ry="1.5" fill="#3a1a05" opacity="0.8" transform="rotate(0 455 560)"/>
<ellipse cx="445" cy="567" rx="1.2" ry="3" fill="#3a1a05" opacity="0.8" transform="rotate(0 445 567)"/>
<ellipse cx="447" cy="585" rx="1.5" ry="3" fill="#3a1a05" opacity="0.8" transform="rotate(0 447 585)"/>
<ellipse cx="428.7" cy="594.1" rx="1.4" ry="4" fill="#fff" opacity="0.95" transform="rotate(15 428.7 594.1)"/>
<ellipse cx="216" cy="590" rx="1.2" ry="4.5" fill="#fff" opacity="0.95" transform="rotate(20 216 590)"/>
<ellipse cx="215" cy="714" rx="1.2" ry="4.5" fill="#fff" opacity="0.95" transform="rotate(20 215 714)"/>
<ellipse cx="330.8" cy="596" rx="1.2" ry="3.5" fill="#fff" opacity="0.95" transform="rotate(15 330.8 596)"/>
<ellipse cx="328" cy="718" rx="1.2" ry="3.5" fill="#fff" opacity="0.95" transform="rotate(15 328 718)"/>
<ellipse cx="431" cy="716" rx="1.3" ry="4.5" fill="#fff" opacity="0.95" transform="rotate(15 431 716)"/>
<ellipse cx="73.6" cy="653.6" rx="2.6" ry="6.5" fill="#1a80c8" transform="rotate(-25 73.6 653.6)" filter="url(#tD)"/>
<ellipse cx="424" cy="361.9" rx="1.4" ry="3.2" fill="#fff" opacity="0.9" transform="rotate(0 424 361.9)"/>
<ellipse cx="434.2" cy="367" rx="1.4" ry="4" fill="#fff" opacity="0.9" transform="rotate(0 434.2 367)"/>
<ellipse cx="442.6" cy="363.2" rx="1.3" ry="3.5" fill="#fff" opacity="0.9" transform="rotate(0 442.6 363.2)"/>
<ellipse cx="467.6" cy="359.4" rx="1.3" ry="3" fill="#fff" opacity="0.9" transform="rotate(0 467.6 359.4)"/>
<path d="M156.0,145.5H172.4V141.9L188.4,147.2L172.4,152.5V148.9H156.0Z" fill="#000"/>
<path d="M156.1,416.1H172.4V412.5L188.4,417.8L172.4,423.1V419.5H156.1Z" fill="#000"/>
<path d="M152.1,661.3H169.0V657.7L185.0,663.0L169.0,668.3V664.7H152.1Z" fill="#000"/>
<path d="M157.9,888.0H174.8V884.4L190.8,889.7L174.8,895.0V891.4H157.9Z" fill="#000"/>
<line x1="182" y1="283.7" x2="549" y2="283.7" stroke="#000" stroke-width="2" stroke-dasharray="3.6 3.3"/>
<line x1="182" y1="531.9" x2="549" y2="531.9" stroke="#000" stroke-width="2" stroke-dasharray="3.6 3.3"/>
<line x1="182" y1="785.7" x2="549" y2="785.7" stroke="#000" stroke-width="2" stroke-dasharray="3.6 3.3"/>
<text x="39.2" y="52.0" font-size="18" text-anchor="start" font-family="Liberation Sans, Arial, sans-serif" font-weight="bold"  textLength="130" lengthAdjust="spacingAndGlyphs">Initial Map (3Å)</text>
<text x="6.3" y="154.1" font-size="16.5" text-anchor="start" font-family="Liberation Sans, Arial, sans-serif" font-weight="bold"  textLength="58.4" lengthAdjust="spacingAndGlyphs">TmrAB</text>
<text x="4.3" y="427.1" font-size="16.5" text-anchor="start" font-family="Liberation Sans, Arial, sans-serif" font-weight="bold"  textLength="53.8" lengthAdjust="spacingAndGlyphs">PCAT1</text>
<text x="6.6" y="668.1" font-size="16.5" text-anchor="start" font-family="Liberation Sans, Arial, sans-serif" font-weight="bold"  textLength="58.3" lengthAdjust="spacingAndGlyphs">Prestin</text>
<text x="0.3" y="888.5" font-size="16.5" text-anchor="start" font-family="Liberation Sans, Arial, sans-serif" font-weight="bold"  textLength="62.7" lengthAdjust="spacingAndGlyphs">Mm-cpn</text>
<text x="522.5" y="58.3" font-size="16.7" text-anchor="middle" font-family="Liberation Sans, Arial, sans-serif" font-weight="bold" >Target</text>
<text x="522.5" y="79.4" font-size="16.7" text-anchor="middle" font-family="Liberation Sans, Arial, sans-serif" font-weight="bold" >Map</text>
<text x="530.8" y="217.4" font-size="16.9" text-anchor="middle" font-family="Liberation Sans, Arial, sans-serif" font-weight="bold" >Generated</text>
<text x="530.8" y="237.6" font-size="16.9" text-anchor="middle" font-family="Liberation Sans, Arial, sans-serif" font-weight="bold" >Map</text>
<text x="522.5" y="343.6" font-size="16.7" text-anchor="middle" font-family="Liberation Sans, Arial, sans-serif" font-weight="bold" >Target</text>
<text x="522.5" y="364.4" font-size="16.7" text-anchor="middle" font-family="Liberation Sans, Arial, sans-serif" font-weight="bold" >Map</text>
<text x="530.8" y="476.0" font-size="16.9" text-anchor="middle" font-family="Liberation Sans, Arial, sans-serif" font-weight="bold" >Generated</text>
<text x="530.8" y="496.4" font-size="16.9" text-anchor="middle" font-family="Liberation Sans, Arial, sans-serif" font-weight="bold" >Map</text>
<text x="522.5" y="594.8" font-size="16.7" text-anchor="middle" font-family="Liberation Sans, Arial, sans-serif" font-weight="bold" >Target</text>
<text x="522.5" y="616.0" font-size="16.7" text-anchor="middle" font-family="Liberation Sans, Arial, sans-serif" font-weight="bold" >Map</text>
<text x="530.8" y="746.6" font-size="16.9" text-anchor="middle" font-family="Liberation Sans, Arial, sans-serif" font-weight="bold" >Generated</text>
<text x="530.8" y="767.3" font-size="16.9" text-anchor="middle" font-family="Liberation Sans, Arial, sans-serif" font-weight="bold" >Map</text>
<text x="522.5" y="835.6" font-size="16.7" text-anchor="middle" font-family="Liberation Sans, Arial, sans-serif" font-weight="bold" >Target</text>
<text x="522.5" y="856.9" font-size="16.7" text-anchor="middle" font-family="Liberation Sans, Arial, sans-serif" font-weight="bold" >Map</text>
<text x="530.8" y="955.9" font-size="16.9" text-anchor="middle" font-family="Liberation Sans, Arial, sans-serif" font-weight="bold" >Generated</text>
<text x="530.8" y="977.0" font-size="16.9" text-anchor="middle" font-family="Liberation Sans, Arial, sans-serif" font-weight="bold" >Map</text>
<text x="269.4" y="30.3" font-size="14" text-anchor="start" font-family="Liberation Sans, Arial, sans-serif" font-weight="bold" >3Å</text>
<text x="376.4" y="30.3" font-size="14" text-anchor="start" font-family="Liberation Sans, Arial, sans-serif" font-weight="bold" >5Å</text>
<text x="475.3" y="30.3" font-size="14" text-anchor="start" font-family="Liberation Sans, Arial, sans-serif" font-weight="bold" >7Å</text>
<text x="263.1" y="176.8" font-size="14" text-anchor="start" font-family="Liberation Sans, Arial, sans-serif" font-weight="bold" >3.08Å</text>
<text x="374.2" y="176.8" font-size="14" text-anchor="start" font-family="Liberation Sans, Arial, sans-serif" font-weight="bold" >3.14Å</text>
<text x="473.8" y="176.8" font-size="14" text-anchor="start" font-family="Liberation Sans, Arial, sans-serif" font-weight="bold" >3.33Å</text>
<text x="257.8" y="305.3" font-size="14" text-anchor="start" font-family="Liberation Sans, Arial, sans-serif" font-weight="bold" >3Å</text>
<text x="368.6" y="305.3" font-size="14" text-anchor="start" font-family="Liberation Sans, Arial, sans-serif" font-weight="bold" >5Å</text>
<text x="484.7" y="305.3" font-size="14" text-anchor="start" font-family="Liberation Sans, Arial, sans-serif" font-weight="bold" >7Å</text>
<text x="255.6" y="424.0" font-size="14" text-anchor="start" font-family="Liberation Sans, Arial, sans-serif" font-weight="bold" >3.18Å</text>
<text x="363.9" y="422.8" font-size="14" text-anchor="start" font-family="Liberation Sans, Arial, sans-serif" font-weight="bold" >3.41Å</text>
<text x="474.7" y="422.8" font-size="14" text-anchor="start" font-family="Liberation Sans, Arial, sans-serif" font-weight="bold" >3.78Å</text>
<text x="257.8" y="552.8" font-size="14" text-anchor="start" font-family="Liberation Sans, Arial, sans-serif" font-weight="bold" >3Å</text>
<text x="371.7" y="552.8" font-size="14" text-anchor="start" font-family="Liberation Sans, Arial, sans-serif" font-weight="bold" >5Å</text>
<text x="479.4" y="552.8" font-size="14" text-anchor="start" font-family="Liberation Sans, Arial, sans-serif" font-weight="bold" >7Å</text>
<text x="255.6" y="673.7" font-size="14" text-anchor="start" font-family="Liberation Sans, Arial, sans-serif" font-weight="bold" >3.04Å</text>
<text x="363.9" y="673.7" font-size="14" text-anchor="start" font-family="Liberation Sans, Arial, sans-serif" font-weight="bold" >3.11Å</text>
<text x="468.5" y="673.7" font-size="14" text-anchor="start" font-family="Liberation Sans, Arial, sans-serif" font-weight="bold" >3.11Å</text>
<text x="269.4" y="801.2" font-size="14" text-anchor="start" font-family="Liberation Sans, Arial, sans-serif" font-weight="bold" >3Å</text>
<text x="371.7" y="801.2" font-size="14" text-anchor="start" font-family="Liberation Sans, Arial, sans-serif" font-weight="bold" >5Å</text>
<text x="477.2" y="801.2" font-size="14" text-anchor="start" font-family="Liberation Sans, Arial, sans-serif" font-weight="bold" >7Å</text>
<text x="258.7" y="905.9" font-size="14" text-anchor="start" font-family="Liberation Sans, Arial, sans-serif" font-weight="bold" >3.16Å</text>
<text x="367.0" y="905.9" font-size="14" text-anchor="start" font-family="Liberation Sans, Arial, sans-serif" font-weight="bold" >3.53Å</text>
<text x="466.9" y="905.9" font-size="14" text-anchor="start" font-family="Liberation Sans, Arial, sans-serif" font-weight="bold" >4.44Å</text>
<line x1="606" y1="123.6" x2="848" y2="123.6" stroke="#444" stroke-width="1" stroke-dasharray="3 2"/>
<line x1="751.1" y1="61.2" x2="751.1" y2="193.3" stroke="#f08a5a" stroke-width="1.5" stroke-dasharray="1.6 2.2"/>
<line x1="759.5" y1="61.2" x2="759.5" y2="193.3" stroke="#f8c84a" stroke-width="1.5" stroke-dasharray="1.6 2.2"/>
<line x1="763.5" y1="61.2" x2="763.5" y2="193.3" stroke="#4a9a66" stroke-width="1.5" stroke-dasharray="1.6 2.2"/>
<polyline points="605.9,52.8 609.3,53.0 612.7,53.1 616.1,53.3 619.4,53.4 622.8,53.6 626.2,53.7 629.3,53.7 632.5,54.6 635.6,54.3 638.7,55.2 641.8,55.9 644.9,56.1 648.1,56.9 651.2,58.3 654.3,59.0 657.4,60.6 660.5,62.2 663.7,65.0 666.8,65.6 669.9,68.4 673.8,71.0 677.7,73.1 681.6,74.0 685.5,76.2 688.6,76.0 691.8,74.7 694.9,73.5 698.0,71.5 701.9,69.4 705.8,68.4 709.7,69.8 713.6,70.0 716.7,71.9 719.8,73.1 723.0,73.3 726.1,75.0 729.2,76.2 732.3,77.6 735.4,79.1 738.6,79.3 741.7,80.3 744.8,82.0 747.9,84.0 751.1,86.9 754.2,88.7 758.9,96.5 762.0,107.4 763.5,119.9 765.1,138.6 766.7,169.8 768.2,192.0 770.7,193.2 773.5,191.0 776.3,191.0 779.1,192.6 782.0,191.5 784.8,191.7 787.6,192.9 790.4,192.6 793.2,192.4 796.0,192.9 798.8,192.6 801.6,192.8 804.4,192.4 807.2,192.2 810.0,190.9 812.9,193.0 815.7,193.0 818.5,191.6 821.3,192.3 824.1,190.8 826.9,192.0 829.7,192.3 832.5,191.5 835.3,191.8 838.1,192.8 840.9,191.1 843.8,191.9 846.6,191.0" fill="none" stroke="#2b8a47" stroke-width="1.9" stroke-linejoin="round"/>
<polyline points="605.9,52.8 609.3,53.1 612.7,53.3 616.1,53.6 619.4,53.8 622.8,54.1 626.2,54.4 629.3,55.1 632.5,57.0 635.6,57.4 638.7,57.2 641.8,59.0 644.9,61.9 648.1,63.7 651.2,65.6 654.3,67.4 657.4,70.0 660.5,72.7 663.7,75.6 666.8,79.3 669.9,82.7 673.0,85.6 676.1,85.5 679.3,87.1 682.4,90.3 685.5,91.8 688.6,89.5 691.8,88.7 694.9,89.7 698.0,90.3 701.1,89.6 704.2,88.7 707.4,89.5 710.5,90.4 713.6,91.8 716.7,92.7 719.8,93.6 723.0,94.9 726.1,97.4 729.2,98.3 732.3,99.6 735.4,101.2 738.6,103.0 741.7,104.3 744.8,106.4 747.9,107.8 751.1,110.5 754.2,112.8 757.3,116.8 760.4,126.1 763.5,144.9 766.7,169.8 768.2,192.0 770.7,193.2 773.5,192.9 776.3,191.0 779.1,192.3 782.0,192.7 784.8,193.0 787.6,190.9 790.4,191.1 793.2,191.7 796.0,192.3 798.8,191.0 801.6,192.5 804.4,192.6 807.2,191.9 810.0,192.9 812.9,191.7 815.7,192.8 818.5,191.7 821.3,191.8 824.1,191.7 826.9,192.5 829.7,193.0 832.5,190.9 835.3,192.2 838.1,192.8 840.9,192.5 843.8,191.3 846.6,191.7" fill="none" stroke="#fbcf45" stroke-width="1.9" stroke-linejoin="round"/>
<polyline points="605.9,52.8 609.4,53.2 612.9,53.6 616.5,54.0 620.0,54.4 623.1,56.6 626.2,57.0 629.3,59.0 632.5,59.9 635.6,58.8 638.7,59.0 641.8,60.1 644.9,61.5 648.1,62.2 651.2,64.6 654.3,66.5 657.4,68.4 660.5,72.7 663.7,76.0 666.8,79.3 669.9,83.8 673.0,86.9 676.1,90.3 679.3,92.8 682.4,94.9 687.1,102.7 691.8,98.1 694.9,95.7 698.0,94.9 701.1,94.9 704.2,93.4 707.4,92.1 710.5,91.8 713.6,93.6 716.7,96.5 719.8,97.7 723.0,100.9 726.1,102.7 729.2,104.1 732.3,106.1 735.4,107.4 738.6,110.1 741.7,112.4 744.8,113.7 747.9,117.4 751.1,120.5 754.2,123.0 757.3,129.0 760.4,135.5 763.5,148.0 766.0,169.8 768.2,192.0 770.7,190.9 773.5,192.7 776.3,193.2 779.1,191.9 782.0,193.0 784.8,192.2 787.6,191.7 790.4,192.8 793.2,190.9 796.0,191.7 798.8,192.5 801.6,191.0 804.4,192.1 807.2,191.7 810.0,191.3 812.9,191.8 815.7,192.6 818.5,192.4 821.3,192.2 824.1,192.7 826.9,191.8 829.7,192.2 832.5,191.0 835.3,192.4 838.1,192.4 840.9,192.3 843.8,192.7 846.6,193.2" fill="none" stroke="#e8641e" stroke-width="1.9" stroke-linejoin="round"/>
<rect x="745.7" y="120.5" width="26.2" height="14.0" fill="none" stroke="#000" stroke-width="0.9"/>
<line x1="736.1" y1="125.5" x2="745.7" y2="121.5" stroke="#000" stroke-width="0.8"/>
<line x1="736.1" y1="144.9" x2="745.7" y2="134.6" stroke="#000" stroke-width="0.8"/>
<rect x="607.5" y="125.5" width="128.6" height="70.5" fill="#fff" stroke="#000" stroke-width="1.1"/>
<line x1="609.0" y1="130.8" x2="734.5" y2="130.8" stroke="#333" stroke-width="1.4" stroke-dasharray="4 2.2"/>
<line x1="665.2" y1="134.6" x2="665.2" y2="195.1" stroke="#ec6a2a" stroke-width="2.4" stroke-dasharray="2.4 2.9"/>
<line x1="683.3" y1="134.6" x2="683.3" y2="195.1" stroke="#f9c940" stroke-width="2.4" stroke-dasharray="2.4 2.9"/>
<line x1="689.6" y1="134.6" x2="689.6" y2="195.1" stroke="#2f8c4a" stroke-width="2.4" stroke-dasharray="2.4 2.9"/>
<polyline points="690.2,126.8 692.4,144.9 694.3,163.6 695.5,179.2 696.7,196.4" fill="none" stroke="#2b8a47" stroke-width="3" stroke-linejoin="round"/>
<polyline points="680.8,126.8 684.0,144.9 687.1,163.6 690.2,179.2 693.3,196.4" fill="none" stroke="#fbcf45" stroke-width="3" stroke-linejoin="round"/>
<polyline points="666.8,126.8 673.0,138.6 679.3,154.2 684.0,169.8 688.0,185.4 690.2,196.4" fill="none" stroke="#e8641e" stroke-width="3" stroke-linejoin="round"/>
<line x1="668.3" y1="130.8" x2="657.3" y2="140.7" stroke="#e8641e" stroke-width="1.3"/>
<path d="M652.7,144.9L655.1,138.3L659.6,143.2Z" fill="#e8641e"/>
<line x1="680.8" y1="132.4" x2="661.1" y2="158.6" stroke="#fbcf45" stroke-width="1.3"/>
<path d="M657.4,163.6L658.5,156.7L663.8,160.6Z" fill="#fbcf45"/>
<line x1="691.8" y1="132.4" x2="704.5" y2="145.2" stroke="#2b8a47" stroke-width="1.3"/>
<path d="M708.9,149.6L702.2,147.5L706.9,142.8Z" fill="#2b8a47"/>
<text x="613.7" y="157.4" font-size="14.5" font-family="Liberation Sans, Arial, sans-serif" font-weight="bold" fill="#e8641e">3.33Å</text>
<text x="613.7" y="179.2" font-size="14.5" font-family="Liberation Sans, Arial, sans-serif" font-weight="bold" fill="#fbcf45">3.14Å</text>
<text x="695.5" y="166.0" font-size="14.5" font-family="Liberation Sans, Arial, sans-serif" font-weight="bold" fill="#2b8a47">3.08Å</text>
<text x="719.3" y="60.6" font-size="10.3" font-family="DejaVu Sans, sans-serif" fill="#ee8656">3.33<tspan font-style="italic">Å</tspan></text>
<text x="749.7" y="60.6" font-size="10.3" font-family="DejaVu Sans, sans-serif" fill="#f4c64c">3.14<tspan font-style="italic">Å</tspan></text>
<text x="779.5" y="60.6" font-size="10.3" font-family="DejaVu Sans, sans-serif" fill="#4d9c66">3.08<tspan font-style="italic">Å</tspan></text>
<line x1="815.2" y1="58.9" x2="834.6" y2="58.9" stroke="#2b8a47" stroke-width="2.2"/>
<text x="840.2" y="62.1" font-size="9" font-family="DejaVu Sans, sans-serif" fill="#333" textLength="10.6" lengthAdjust="spacingAndGlyphs">3<tspan font-style="italic">Å</tspan></text>
<line x1="815.2" y1="72.3" x2="834.6" y2="72.3" stroke="#fbcf45" stroke-width="2.2"/>
<text x="840.2" y="75.5" font-size="9" font-family="DejaVu Sans, sans-serif" fill="#333" textLength="10.6" lengthAdjust="spacingAndGlyphs">5<tspan font-style="italic">Å</tspan></text>
<line x1="815.2" y1="85.7" x2="834.6" y2="85.7" stroke="#e8641e" stroke-width="2.2"/>
<text x="840.2" y="88.9" font-size="9" font-family="DejaVu Sans, sans-serif" fill="#333" textLength="10.6" lengthAdjust="spacingAndGlyphs">7<tspan font-style="italic">Å</tspan></text>
<rect x="593.8" y="46.9" width="265.8" height="152.7" fill="none" stroke="#222" stroke-width="1.6"/>
<line x1="590.5" y1="53.9" x2="593.8" y2="53.9" stroke="#222" stroke-width="1"/>
<text x="589.0" y="56.8" font-size="7.9" text-anchor="end" font-family="DejaVu Sans, sans-serif" fill="#222" stroke="#222" stroke-width="0.15">1</text>
<line x1="590.5" y1="88.8" x2="593.8" y2="88.8" stroke="#222" stroke-width="1"/>
<text x="589.0" y="91.7" font-size="7.9" text-anchor="end" font-family="DejaVu Sans, sans-serif" fill="#222" stroke="#222" stroke-width="0.15">0.75</text>
<line x1="590.5" y1="123.6" x2="593.8" y2="123.6" stroke="#222" stroke-width="1"/>
<text x="589.0" y="126.5" font-size="7.9" text-anchor="end" font-family="DejaVu Sans, sans-serif" fill="#222" stroke="#222" stroke-width="0.15">0.5</text>
<line x1="590.5" y1="158.5" x2="593.8" y2="158.5" stroke="#222" stroke-width="1"/>
<text x="589.0" y="161.4" font-size="7.9" text-anchor="end" font-family="DejaVu Sans, sans-serif" fill="#222" stroke="#222" stroke-width="0.15">0.25</text>
<line x1="590.5" y1="193.3" x2="593.8" y2="193.3" stroke="#222" stroke-width="1"/>
<text x="589.0" y="196.2" font-size="7.9" text-anchor="end" font-family="DejaVu Sans, sans-serif" fill="#222" stroke="#222" stroke-width="0.15">0</text>
<line x1="609.4" y1="199.6" x2="609.4" y2="202.9" stroke="#222" stroke-width="1"/>
<text transform="translate(616.4,208.8) rotate(-58)" font-size="8" text-anchor="end" font-family="DejaVu Sans, sans-serif" fill="#1a1a1a" stroke="#1a1a1a" stroke-width="0.15">160<tspan font-style="italic">Å</tspan></text>
<line x1="639.5" y1="199.6" x2="639.5" y2="202.9" stroke="#222" stroke-width="1"/>
<text transform="translate(646.5,208.8) rotate(-58)" font-size="8" text-anchor="end" font-family="DejaVu Sans, sans-serif" fill="#1a1a1a" stroke="#1a1a1a" stroke-width="0.15">14.5<tspan font-style="italic">Å</tspan></text>
<line x1="669.6" y1="199.6" x2="669.6" y2="202.9" stroke="#222" stroke-width="1"/>
<text transform="translate(676.6,208.8) rotate(-58)" font-size="8" text-anchor="end" font-family="DejaVu Sans, sans-serif" fill="#1a1a1a" stroke="#1a1a1a" stroke-width="0.15">7.62<tspan font-style="italic">Å</tspan></text>
<line x1="699.7" y1="199.6" x2="699.7" y2="202.9" stroke="#222" stroke-width="1"/>
<text transform="translate(706.7,208.8) rotate(-58)" font-size="8" text-anchor="end" font-family="DejaVu Sans, sans-serif" fill="#1a1a1a" stroke="#1a1a1a" stroke-width="0.15">5.16<tspan font-style="italic">Å</tspan></text>
<line x1="729.8" y1="199.6" x2="729.8" y2="202.9" stroke="#222" stroke-width="1"/>
<text transform="translate(736.8,208.8) rotate(-58)" font-size="8" text-anchor="end" font-family="DejaVu Sans, sans-serif" fill="#1a1a1a" stroke="#1a1a1a" stroke-width="0.15">3.9<tspan font-style="italic">Å</tspan></text>
<line x1="759.9" y1="199.6" x2="759.9" y2="202.9" stroke="#222" stroke-width="1"/>
<text transform="translate(766.9,208.8) rotate(-58)" font-size="8" text-anchor="end" font-family="DejaVu Sans, sans-serif" fill="#1a1a1a" stroke="#1a1a1a" stroke-width="0.15">3.14<tspan font-style="italic">Å</tspan></text>
<line x1="790.0" y1="199.6" x2="790.0" y2="202.9" stroke="#222" stroke-width="1"/>
<text transform="translate(797.0,208.8) rotate(-58)" font-size="8" text-anchor="end" font-family="DejaVu Sans, sans-serif" fill="#1a1a1a" stroke="#1a1a1a" stroke-width="0.15">2.62<tspan font-style="italic">Å</tspan></text>
<line x1="820.1" y1="199.6" x2="820.1" y2="202.9" stroke="#222" stroke-width="1"/>
<text transform="translate(827.1,208.8) rotate(-58)" font-size="8" text-anchor="end" font-family="DejaVu Sans, sans-serif" fill="#1a1a1a" stroke="#1a1a1a" stroke-width="0.15">2.25<tspan font-style="italic">Å</tspan></text>
<line x1="850.2" y1="199.6" x2="850.2" y2="202.9" stroke="#222" stroke-width="1"/>
<text transform="translate(857.2,208.8) rotate(-58)" font-size="8" text-anchor="end" font-family="DejaVu Sans, sans-serif" fill="#1a1a1a" stroke="#1a1a1a" stroke-width="0.15">1.98<tspan font-style="italic">Å</tspan></text>
<text x="726.7" y="243.8" font-size="16.7" text-anchor="middle" font-family="DejaVu Sans, sans-serif" fill="#1a1a1a" stroke="#1a1a1a" stroke-width="0.35">Resolution</text>
<text transform="translate(566.7,123.3) rotate(-90)" font-size="12.9" text-anchor="middle" font-family="DejaVu Sans, sans-serif" fill="#222" stroke="#222" stroke-width="0.25">Model-to-map FSC</text>
<line x1="606" y1="390.0" x2="848" y2="390.0" stroke="#444" stroke-width="1" stroke-dasharray="3 2"/>
<line x1="733.3" y1="328.2" x2="733.3" y2="459.1" stroke="#f08a5a" stroke-width="1.5" stroke-dasharray="1.6 2.2"/>
<line x1="747.0" y1="328.2" x2="747.0" y2="459.1" stroke="#f8c84a" stroke-width="1.5" stroke-dasharray="1.6 2.2"/>
<line x1="757.3" y1="328.2" x2="757.3" y2="459.1" stroke="#4a9a66" stroke-width="1.5" stroke-dasharray="1.6 2.2"/>
<polyline points="605.9,319.8 609.3,319.9 612.6,320.1 616.0,320.2 619.3,320.3 622.6,320.5 626.0,320.6 629.3,320.7 632.5,321.5 635.6,321.9 638.7,321.2 641.8,321.8 644.9,322.9 648.1,325.0 651.2,324.7 654.3,326.8 657.4,327.6 660.5,330.1 663.7,333.7 666.8,335.4 669.9,338.4 673.0,340.3 676.1,343.2 679.3,343.6 682.4,345.0 685.5,346.3 688.6,346.0 691.8,345.2 694.9,343.2 698.5,342.7 702.2,340.5 705.8,340.1 709.7,342.1 713.6,343.2 716.7,344.8 719.8,347.9 723.0,349.5 726.1,351.1 729.2,353.1 732.3,355.7 735.4,357.7 738.6,361.7 741.7,363.5 745.6,366.9 749.5,371.3 752.6,374.5 755.7,379.1 760.4,390.0 763.5,402.5 766.7,421.2 769.8,443.1 772.3,459.0 774.8,458.1 777.6,458.5 780.4,458.9 783.2,458.2 786.0,459.3 788.8,460.2 791.6,459.8 794.4,459.5 797.2,458.2 800.1,459.4 802.9,459.2 805.7,458.2 808.5,459.9 811.3,458.2 814.1,459.6 816.9,459.5 819.7,459.4 822.5,460.0 825.3,458.3 828.1,458.5 831.0,459.5 833.8,459.7 836.6,459.0 839.4,459.3 842.2,458.6 845.0,459.8 847.8,459.7" fill="none" stroke="#2b8a47" stroke-width="1.9" stroke-linejoin="round"/>
<polyline points="605.9,319.8 609.3,320.0 612.6,320.2 616.0,320.5 619.3,320.7 622.6,320.9 626.0,321.1 629.3,321.4 632.5,321.2 635.6,323.7 638.7,324.4 641.8,323.7 644.9,325.7 648.1,326.0 651.2,329.2 654.3,330.3 657.4,332.8 660.5,335.4 663.7,338.8 666.8,340.9 669.9,343.2 673.0,346.6 676.1,348.9 679.3,351.0 682.4,352.7 685.5,355.6 688.6,357.3 691.8,358.1 694.9,356.5 698.0,356.9 701.1,357.3 704.2,356.7 707.4,356.7 710.5,357.3 713.6,360.2 716.7,361.9 719.8,365.2 723.0,369.7 726.1,373.6 729.2,376.0 732.3,377.4 735.4,379.6 738.6,380.7 741.7,382.1 744.8,385.0 747.9,386.9 751.1,389.9 754.2,393.1 758.9,401.0 763.5,418.1 768.2,443.1 771.3,459.0 773.8,457.9 776.6,459.2 779.5,460.2 782.3,458.4 785.1,459.9 787.9,459.6 790.7,458.4 793.5,460.0 796.3,458.3 799.1,458.5 801.9,459.3 804.7,459.1 807.5,459.1 810.4,459.2 813.2,459.1 816.0,460.0 818.8,459.4 821.6,460.1 824.4,458.5 827.2,458.4 830.0,459.0 832.8,458.3 835.6,460.2 838.4,458.6 841.3,459.8 844.1,458.6 846.9,459.5" fill="none" stroke="#fbcf45" stroke-width="1.9" stroke-linejoin="round"/>
<polyline points="605.9,319.8 609.4,320.1 612.8,320.4 616.2,320.7 619.7,321.1 623.1,321.4 626.2,322.3 629.3,323.1 632.5,323.9 635.6,325.9 638.7,326.0 641.8,325.8 644.9,326.6 648.1,326.9 651.2,327.6 654.3,332.7 657.4,337.0 660.5,341.6 663.7,346.3 666.8,353.3 669.9,358.8 673.0,363.3 676.1,368.2 679.3,371.4 682.4,375.3 685.5,379.1 688.6,377.1 691.8,374.4 694.9,370.4 698.0,368.2 701.1,368.7 704.2,368.1 707.4,366.1 710.5,366.6 715.2,372.9 719.8,377.5 723.0,377.9 726.1,380.2 729.2,380.7 732.3,385.8 735.4,390.0 738.6,392.7 741.7,396.3 745.6,398.3 749.5,401.0 752.6,403.2 755.7,405.6 760.4,415.0 765.1,430.6 769.8,449.3 772.9,459.0 775.4,458.7 778.2,459.7 781.0,458.7 783.8,459.2 786.6,459.3 789.4,458.8 792.3,458.5 795.1,457.8 797.9,459.2 800.7,459.1 803.5,458.6 806.3,459.0 809.1,458.9 811.9,458.5 814.7,458.2 817.5,458.6 820.3,459.8 823.2,459.5 826.0,459.9 828.8,460.0 831.6,459.3 834.4,459.9 837.2,458.3 840.0,458.2 842.8,460.0 845.6,459.3" fill="none" stroke="#e8641e" stroke-width="1.9" stroke-linejoin="round"/>
<rect x="725.5" y="384.4" width="40.6" height="23.7" fill="none" stroke="#000" stroke-width="0.9"/>
<line x1="701.1" y1="397.8" x2="725.5" y2="384.4" stroke="#000" stroke-width="0.8"/>
<line x1="723.9" y1="433.1" x2="742.3" y2="408.1" stroke="#000" stroke-width="0.8"/>
<rect x="605.9" y="397.8" width="118.6" height="66.2" fill="#fff" stroke="#000" stroke-width="1.1"/>
<line x1="607.5" y1="401.6" x2="723.0" y2="401.6" stroke="#333" stroke-width="1.4" stroke-dasharray="4 2.2"/>
<line x1="638.7" y1="405.3" x2="638.7" y2="463.1" stroke="#ec6a2a" stroke-width="2.4" stroke-dasharray="2.4 2.9"/>
<line x1="659.6" y1="405.3" x2="659.6" y2="463.1" stroke="#f9c940" stroke-width="2.4" stroke-dasharray="2.4 2.9"/>
<line x1="674.6" y1="405.3" x2="674.6" y2="463.1" stroke="#2f8c4a" stroke-width="2.4" stroke-dasharray="2.4 2.9"/>
<polyline points="675.5,398.8 679.3,418.1 682.4,436.8 685.5,455.6 687.1,464.0" fill="none" stroke="#2b8a47" stroke-width="3" stroke-linejoin="round"/>
<polyline points="660.5,399.4 665.2,411.9 671.5,424.4 677.7,436.8 682.4,452.4 685.5,464.0" fill="none" stroke="#fbcf45" stroke-width="3" stroke-linejoin="round"/>
<polyline points="635.6,398.8 641.8,402.5 649.6,408.8 657.4,419.7 666.8,422.8 673.0,430.6 677.7,443.1 682.4,455.6 685.5,464.0" fill="none" stroke="#e8641e" stroke-width="3" stroke-linejoin="round"/>
<line x1="641.8" y1="402.5" x2="635.6" y2="407.8" stroke="#e8641e" stroke-width="1.3"/>
<path d="M630.9,411.9L633.5,405.3L637.7,410.3Z" fill="#e8641e"/>
<line x1="660.5" y1="399.4" x2="652.7" y2="429.3" stroke="#fbcf45" stroke-width="1.3"/>
<path d="M651.2,435.3L649.6,428.5L655.9,430.1Z" fill="#fbcf45"/>
<line x1="677.7" y1="401.0" x2="693.4" y2="415.5" stroke="#2b8a47" stroke-width="1.3"/>
<path d="M698.0,419.7L691.2,417.9L695.7,413.0Z" fill="#2b8a47"/>
<text x="612.2" y="425.0" font-size="14.5" font-family="Liberation Sans, Arial, sans-serif" font-weight="bold" fill="#e8641e">3.78Å</text>
<text x="610.6" y="453.1" font-size="14.5" font-family="Liberation Sans, Arial, sans-serif" font-weight="bold" fill="#fbcf45">3.41Å</text>
<text x="684.0" y="434.3" font-size="14.5" font-family="Liberation Sans, Arial, sans-serif" font-weight="bold" fill="#2b8a47">3.18Å</text>
<text x="705.8" y="327.5" font-size="10.3" font-family="DejaVu Sans, sans-serif" fill="#ee8656">3.78<tspan font-style="italic">Å</tspan></text>
<text x="737.0" y="327.5" font-size="10.3" font-family="DejaVu Sans, sans-serif" fill="#f4c64c">3.41<tspan font-style="italic">Å</tspan></text>
<text x="768.2" y="327.5" font-size="10.3" font-family="DejaVu Sans, sans-serif" fill="#4d9c66">3.18<tspan font-style="italic">Å</tspan></text>
<line x1="815.2" y1="325.8" x2="834.6" y2="325.8" stroke="#2b8a47" stroke-width="2.2"/>
<text x="840.2" y="329.0" font-size="9" font-family="DejaVu Sans, sans-serif" fill="#333" textLength="10.6" lengthAdjust="spacingAndGlyphs">3<tspan font-style="italic">Å</tspan></text>
<line x1="815.2" y1="339.2" x2="834.6" y2="339.2" stroke="#fbcf45" stroke-width="2.2"/>
<text x="840.2" y="342.4" font-size="9" font-family="DejaVu Sans, sans-serif" fill="#333" textLength="10.6" lengthAdjust="spacingAndGlyphs">5<tspan font-style="italic">Å</tspan></text>
<line x1="815.2" y1="352.6" x2="834.6" y2="352.6" stroke="#e8641e" stroke-width="2.2"/>
<text x="840.2" y="355.8" font-size="9" font-family="DejaVu Sans, sans-serif" fill="#333" textLength="10.6" lengthAdjust="spacingAndGlyphs">7<tspan font-style="italic">Å</tspan></text>
<rect x="593.8" y="313.8" width="265.8" height="151.6" fill="none" stroke="#222" stroke-width="1.6"/>
<line x1="590.5" y1="320.8" x2="593.8" y2="320.8" stroke="#222" stroke-width="1"/>
<text x="589.0" y="323.7" font-size="7.9" text-anchor="end" font-family="DejaVu Sans, sans-serif" fill="#222" stroke="#222" stroke-width="0.15">1</text>
<line x1="590.5" y1="355.4" x2="593.8" y2="355.4" stroke="#222" stroke-width="1"/>
<text x="589.0" y="358.3" font-size="7.9" text-anchor="end" font-family="DejaVu Sans, sans-serif" fill="#222" stroke="#222" stroke-width="0.15">0.75</text>
<line x1="590.5" y1="390.0" x2="593.8" y2="390.0" stroke="#222" stroke-width="1"/>
<text x="589.0" y="392.9" font-size="7.9" text-anchor="end" font-family="DejaVu Sans, sans-serif" fill="#222" stroke="#222" stroke-width="0.15">0.5</text>
<line x1="590.5" y1="424.5" x2="593.8" y2="424.5" stroke="#222" stroke-width="1"/>
<text x="589.0" y="427.4" font-size="7.9" text-anchor="end" font-family="DejaVu Sans, sans-serif" fill="#222" stroke="#222" stroke-width="0.15">0.25</text>
<line x1="590.5" y1="459.1" x2="593.8" y2="459.1" stroke="#222" stroke-width="1"/>
<text x="589.0" y="462.0" font-size="7.9" text-anchor="end" font-family="DejaVu Sans, sans-serif" fill="#222" stroke="#222" stroke-width="0.15">0</text>
<line x1="609.4" y1="465.4" x2="609.4" y2="468.7" stroke="#222" stroke-width="1"/>
<text transform="translate(616.4,474.6) rotate(-58)" font-size="8" text-anchor="end" font-family="DejaVu Sans, sans-serif" fill="#1a1a1a" stroke="#1a1a1a" stroke-width="0.15">140<tspan font-style="italic">Å</tspan></text>
<line x1="639.5" y1="465.4" x2="639.5" y2="468.7" stroke="#222" stroke-width="1"/>
<text transform="translate(646.5,474.6) rotate(-58)" font-size="8" text-anchor="end" font-family="DejaVu Sans, sans-serif" fill="#1a1a1a" stroke="#1a1a1a" stroke-width="0.15">14.4<tspan font-style="italic">Å</tspan></text>
<line x1="669.6" y1="465.4" x2="669.6" y2="468.7" stroke="#222" stroke-width="1"/>
<text transform="translate(676.6,474.6) rotate(-58)" font-size="8" text-anchor="end" font-family="DejaVu Sans, sans-serif" fill="#1a1a1a" stroke="#1a1a1a" stroke-width="0.15">7.57<tspan font-style="italic">Å</tspan></text>
<line x1="699.7" y1="465.4" x2="699.7" y2="468.7" stroke="#222" stroke-width="1"/>
<text transform="translate(706.7,474.6) rotate(-58)" font-size="8" text-anchor="end" font-family="DejaVu Sans, sans-serif" fill="#1a1a1a" stroke="#1a1a1a" stroke-width="0.15">5.14<tspan font-style="italic">Å</tspan></text>
<line x1="729.8" y1="465.4" x2="729.8" y2="468.7" stroke="#222" stroke-width="1"/>
<text transform="translate(736.8,474.6) rotate(-58)" font-size="8" text-anchor="end" font-family="DejaVu Sans, sans-serif" fill="#1a1a1a" stroke="#1a1a1a" stroke-width="0.15">3.89<tspan font-style="italic">Å</tspan></text>
<line x1="759.9" y1="465.4" x2="759.9" y2="468.7" stroke="#222" stroke-width="1"/>
<text transform="translate(766.9,474.6) rotate(-58)" font-size="8" text-anchor="end" font-family="DejaVu Sans, sans-serif" fill="#1a1a1a" stroke="#1a1a1a" stroke-width="0.15">3.13<tspan font-style="italic">Å</tspan></text>
<line x1="790.0" y1="465.4" x2="790.0" y2="468.7" stroke="#222" stroke-width="1"/>
<text transform="translate(797.0,474.6) rotate(-58)" font-size="8" text-anchor="end" font-family="DejaVu Sans, sans-serif" fill="#1a1a1a" stroke="#1a1a1a" stroke-width="0.15">2.62<tspan font-style="italic">Å</tspan></text>
<line x1="820.1" y1="465.4" x2="820.1" y2="468.7" stroke="#222" stroke-width="1"/>
<text transform="translate(827.1,474.6) rotate(-58)" font-size="8" text-anchor="end" font-family="DejaVu Sans, sans-serif" fill="#1a1a1a" stroke="#1a1a1a" stroke-width="0.15">2.25<tspan font-style="italic">Å</tspan></text>
<line x1="850.2" y1="465.4" x2="850.2" y2="468.7" stroke="#222" stroke-width="1"/>
<text transform="translate(857.2,474.6) rotate(-58)" font-size="8" text-anchor="end" font-family="DejaVu Sans, sans-serif" fill="#1a1a1a" stroke="#1a1a1a" stroke-width="0.15">1.97<tspan font-style="italic">Å</tspan></text>
<text x="726.7" y="509.6" font-size="16.7" text-anchor="middle" font-family="DejaVu Sans, sans-serif" fill="#1a1a1a" stroke="#1a1a1a" stroke-width="0.35">Resolution</text>
<text transform="translate(566.7,389.6) rotate(-90)" font-size="12.9" text-anchor="middle" font-family="DejaVu Sans, sans-serif" fill="#222" stroke="#222" stroke-width="0.25">Model-to-map FSC</text>
<line x1="606" y1="638.7" x2="848" y2="638.7" stroke="#444" stroke-width="1" stroke-dasharray="3 2"/>
<line x1="761.4" y1="577.2" x2="761.4" y2="708.2" stroke="#f08a5a" stroke-width="1.5" stroke-dasharray="1.6 2.2"/>
<line x1="763.5" y1="577.2" x2="763.5" y2="708.2" stroke="#f8c84a" stroke-width="1.5" stroke-dasharray="1.6 2.2"/>
<line x1="765.1" y1="577.2" x2="765.1" y2="708.2" stroke="#4a9a66" stroke-width="1.5" stroke-dasharray="1.6 2.2"/>
<polyline points="605.9,568.8 609.2,568.9 612.4,569.1 615.7,569.2 619.0,569.4 622.2,569.5 625.5,569.7 628.8,569.8 632.0,569.9 635.3,570.1 638.6,570.2 641.8,570.4 644.9,570.8 648.1,570.2 651.2,571.1 654.3,570.7 657.4,571.0 660.5,571.4 663.7,571.9 666.8,572.8 669.9,573.9 673.0,575.0 676.1,575.0 679.3,575.7 682.4,575.5 685.5,576.6 688.6,576.1 691.8,574.9 694.9,575.6 698.0,575.0 701.1,575.3 704.2,574.6 707.4,575.2 710.5,574.1 713.6,575.1 716.7,575.2 719.8,574.8 723.0,575.0 726.1,576.8 729.2,576.6 732.3,577.6 735.4,578.2 738.6,579.7 741.7,579.4 744.8,581.3 748.7,584.1 752.6,586.0 757.3,592.2 760.4,604.7 762.9,623.4 765.1,642.1 767.3,670.2 769.8,698.3 771.3,708.0 773.8,707.1 776.6,709.1 779.5,707.2 782.3,707.0 785.1,707.5 787.9,708.1 790.7,708.2 793.5,707.0 796.3,708.4 799.1,708.6 801.9,708.7 804.7,708.0 807.5,707.6 810.4,708.1 813.2,708.7 816.0,707.4 818.8,709.1 821.6,707.9 824.4,706.8 827.2,706.8 830.0,708.0 832.8,709.0 835.6,707.7 838.4,707.2 841.3,708.1 844.1,707.1 846.9,708.8" fill="none" stroke="#2b8a47" stroke-width="1.9" stroke-linejoin="round"/>
<polyline points="605.9,568.8 609.3,569.1 612.7,569.3 616.1,569.6 619.4,569.8 622.8,570.1 626.2,570.4 629.3,571.5 632.5,572.0 635.6,572.1 638.7,571.8 641.8,573.1 644.9,573.5 648.1,574.7 651.2,575.2 654.3,576.6 657.4,576.6 660.5,578.6 663.7,579.8 666.8,580.1 669.9,581.3 673.0,581.4 676.1,583.8 679.3,584.4 682.4,585.0 685.5,586.3 688.6,586.3 691.8,587.5 694.9,587.6 698.0,588.0 701.1,587.8 704.2,589.1 707.4,590.6 710.5,590.6 713.6,590.5 716.7,592.2 719.8,594.1 723.0,594.5 726.1,596.9 729.2,598.2 732.3,598.5 735.4,600.0 738.6,601.4 741.7,602.2 744.8,604.7 748.7,608.5 752.6,610.9 757.3,617.2 760.4,626.5 763.5,642.1 766.7,670.2 769.2,698.3 770.7,708.0 773.2,706.9 776.0,708.4 778.8,708.5 781.6,707.3 784.5,706.8 787.3,709.1 790.1,707.5 792.9,708.5 795.7,708.4 798.5,708.8 801.3,708.4 804.1,707.9 806.9,709.0 809.7,708.0 812.5,708.5 815.3,708.7 818.2,707.2 821.0,708.3 823.8,709.1 826.6,707.0 829.4,707.9 832.2,708.7 835.0,707.6 837.8,706.8 840.6,708.4 843.4,708.5 846.2,707.5" fill="none" stroke="#fbcf45" stroke-width="1.9" stroke-linejoin="round"/>
<polyline points="605.9,568.8 609.4,569.0 612.9,569.3 616.5,569.5 620.0,569.7 623.1,570.5 626.2,571.9 629.3,572.0 632.5,572.9 635.6,573.3 638.7,574.8 641.8,576.2 644.9,576.6 648.1,577.5 651.2,579.7 654.3,580.6 657.4,582.8 660.5,583.6 663.7,585.7 666.8,587.5 669.9,589.8 673.0,592.2 676.1,593.4 679.3,594.0 682.4,593.8 685.5,595.3 688.6,596.3 691.8,596.9 694.9,598.6 698.0,599.7 701.1,600.0 704.2,600.3 707.4,599.2 710.5,600.0 713.6,601.6 716.7,602.2 719.8,604.7 723.0,606.3 726.1,606.5 729.2,607.8 732.3,609.4 735.4,610.7 738.6,610.9 741.7,614.7 744.8,617.2 747.9,619.9 751.1,623.4 755.7,629.7 759.8,635.9 763.5,646.8 766.0,664.0 768.5,692.1 770.4,708.0 772.9,707.1 775.7,707.7 778.5,708.5 781.3,707.7 784.1,708.4 786.9,708.4 789.8,707.1 792.6,708.4 795.4,708.5 798.2,708.6 801.0,708.2 803.8,708.8 806.6,709.0 809.4,709.2 812.2,708.9 815.0,709.2 817.8,708.5 820.7,706.9 823.5,707.8 826.3,708.7 829.1,708.9 831.9,707.9 834.7,708.9 837.5,706.8 840.3,708.5 843.1,708.6 845.9,707.8" fill="none" stroke="#e8641e" stroke-width="1.9" stroke-linejoin="round"/>
<rect x="741.7" y="633.4" width="30.6" height="18.1" fill="none" stroke="#000" stroke-width="0.9"/>
<line x1="727.6" y1="644.6" x2="741.7" y2="633.4" stroke="#000" stroke-width="0.8"/>
<line x1="727.6" y1="670.2" x2="747.9" y2="651.5" stroke="#000" stroke-width="0.8"/>
<rect x="608.1" y="644.6" width="119.5" height="66.8" fill="#fff" stroke="#000" stroke-width="1.1"/>
<line x1="609.7" y1="664.6" x2="726.1" y2="664.6" stroke="#333" stroke-width="1.4" stroke-dasharray="4 2.2"/>
<line x1="704.9" y1="668.4" x2="704.9" y2="710.5" stroke="#ec6a2a" stroke-width="2.4" stroke-dasharray="2.4 2.9"/>
<line x1="706.7" y1="668.4" x2="706.7" y2="710.5" stroke="#f9c940" stroke-width="2.4" stroke-dasharray="2.4 2.9"/>
<line x1="708.9" y1="668.4" x2="708.9" y2="710.5" stroke="#2f8c4a" stroke-width="2.4" stroke-dasharray="2.4 2.9"/>
<polyline points="709.9,645.3 711.1,664.0 712.7,685.8 713.9,710.8" fill="none" stroke="#2b8a47" stroke-width="3" stroke-linejoin="round"/>
<polyline points="702.7,645.3 705.8,664.0 708.9,685.8 712.0,710.8" fill="none" stroke="#fbcf45" stroke-width="3" stroke-linejoin="round"/>
<polyline points="694.9,645.3 699.6,651.5 704.2,660.9 708.9,676.5 712.0,695.2 713.6,710.8" fill="none" stroke="#e8641e" stroke-width="3" stroke-linejoin="round"/>
<line x1="708.9" y1="665.6" x2="680.7" y2="669.9" stroke="#e8641e" stroke-width="1.3"/>
<path d="M674.6,670.9L680.2,666.7L681.2,673.2Z" fill="#e8641e"/>
<line x1="708.9" y1="666.5" x2="683.2" y2="680.4" stroke="#fbcf45" stroke-width="1.3"/>
<path d="M677.7,683.3L681.6,677.5L684.7,683.3Z" fill="#fbcf45"/>
<line x1="708.9" y1="666.5" x2="694.0" y2="685.6" stroke="#2b8a47" stroke-width="1.3"/>
<path d="M690.2,690.5L691.4,683.6L696.6,687.7Z" fill="#2b8a47"/>
<text x="632.5" y="680.2" font-size="14.5" font-family="Liberation Sans, Arial, sans-serif" font-weight="bold" fill="#e8641e">3.11Å</text>
<text x="637.1" y="694.6" font-size="14.5" font-family="Liberation Sans, Arial, sans-serif" font-weight="bold" fill="#fbcf45">3.11Å</text>
<text x="669.3" y="707.1" font-size="14.5" font-family="Liberation Sans, Arial, sans-serif" font-weight="bold" fill="#2b8a47">3.04Å</text>
<text x="720.5" y="575.8" font-size="10.3" font-family="DejaVu Sans, sans-serif" fill="#ee8656">3.11<tspan font-style="italic">Å</tspan></text>
<text x="751.0" y="575.8" font-size="10.3" font-family="DejaVu Sans, sans-serif" fill="#f4c64c">3.11<tspan font-style="italic">Å</tspan></text>
<text x="782.3" y="575.8" font-size="10.3" font-family="DejaVu Sans, sans-serif" fill="#4d9c66">3.04<tspan font-style="italic">Å</tspan></text>
<line x1="815.2" y1="574.1" x2="834.6" y2="574.1" stroke="#2b8a47" stroke-width="2.2"/>
<text x="840.2" y="577.3" font-size="9" font-family="DejaVu Sans, sans-serif" fill="#333" textLength="10.6" lengthAdjust="spacingAndGlyphs">3<tspan font-style="italic">Å</tspan></text>
<line x1="815.2" y1="587.5" x2="834.6" y2="587.5" stroke="#fbcf45" stroke-width="2.2"/>
<text x="840.2" y="590.7" font-size="9" font-family="DejaVu Sans, sans-serif" fill="#333" textLength="10.6" lengthAdjust="spacingAndGlyphs">5<tspan font-style="italic">Å</tspan></text>
<line x1="815.2" y1="600.9" x2="834.6" y2="600.9" stroke="#e8641e" stroke-width="2.2"/>
<text x="840.2" y="604.1" font-size="9" font-family="DejaVu Sans, sans-serif" fill="#333" textLength="10.6" lengthAdjust="spacingAndGlyphs">7<tspan font-style="italic">Å</tspan></text>
<rect x="593.8" y="562.1" width="265.8" height="152.4" fill="none" stroke="#222" stroke-width="1.6"/>
<line x1="590.5" y1="569.1" x2="593.8" y2="569.1" stroke="#222" stroke-width="1"/>
<text x="589.0" y="572.0" font-size="7.9" text-anchor="end" font-family="DejaVu Sans, sans-serif" fill="#222" stroke="#222" stroke-width="0.15">1</text>
<line x1="590.5" y1="603.9" x2="593.8" y2="603.9" stroke="#222" stroke-width="1"/>
<text x="589.0" y="606.8" font-size="7.9" text-anchor="end" font-family="DejaVu Sans, sans-serif" fill="#222" stroke="#222" stroke-width="0.15">0.75</text>
<line x1="590.5" y1="638.7" x2="593.8" y2="638.7" stroke="#222" stroke-width="1"/>
<text x="589.0" y="641.6" font-size="7.9" text-anchor="end" font-family="DejaVu Sans, sans-serif" fill="#222" stroke="#222" stroke-width="0.15">0.5</text>
<line x1="590.5" y1="673.4" x2="593.8" y2="673.4" stroke="#222" stroke-width="1"/>
<text x="589.0" y="676.3" font-size="7.9" text-anchor="end" font-family="DejaVu Sans, sans-serif" fill="#222" stroke="#222" stroke-width="0.15">0.25</text>
<line x1="590.5" y1="708.2" x2="593.8" y2="708.2" stroke="#222" stroke-width="1"/>
<text x="589.0" y="711.1" font-size="7.9" text-anchor="end" font-family="DejaVu Sans, sans-serif" fill="#222" stroke="#222" stroke-width="0.15">0</text>
<line x1="609.4" y1="714.5" x2="609.4" y2="717.8" stroke="#222" stroke-width="1"/>
<text transform="translate(616.4,723.7) rotate(-58)" font-size="8" text-anchor="end" font-family="DejaVu Sans, sans-serif" fill="#1a1a1a" stroke="#1a1a1a" stroke-width="0.15">140<tspan font-style="italic">Å</tspan></text>
<line x1="639.5" y1="714.5" x2="639.5" y2="717.8" stroke="#222" stroke-width="1"/>
<text transform="translate(646.5,723.7) rotate(-58)" font-size="8" text-anchor="end" font-family="DejaVu Sans, sans-serif" fill="#1a1a1a" stroke="#1a1a1a" stroke-width="0.15">14.4<tspan font-style="italic">Å</tspan></text>
<line x1="669.6" y1="714.5" x2="669.6" y2="717.8" stroke="#222" stroke-width="1"/>
<text transform="translate(676.6,723.7) rotate(-58)" font-size="8" text-anchor="end" font-family="DejaVu Sans, sans-serif" fill="#1a1a1a" stroke="#1a1a1a" stroke-width="0.15">7.57<tspan font-style="italic">Å</tspan></text>
<line x1="699.7" y1="714.5" x2="699.7" y2="717.8" stroke="#222" stroke-width="1"/>
<text transform="translate(706.7,723.7) rotate(-58)" font-size="8" text-anchor="end" font-family="DejaVu Sans, sans-serif" fill="#1a1a1a" stroke="#1a1a1a" stroke-width="0.15">5.14<tspan font-style="italic">Å</tspan></text>
<line x1="729.8" y1="714.5" x2="729.8" y2="717.8" stroke="#222" stroke-width="1"/>
<text transform="translate(736.8,723.7) rotate(-58)" font-size="8" text-anchor="end" font-family="DejaVu Sans, sans-serif" fill="#1a1a1a" stroke="#1a1a1a" stroke-width="0.15">3.89<tspan font-style="italic">Å</tspan></text>
<line x1="759.9" y1="714.5" x2="759.9" y2="717.8" stroke="#222" stroke-width="1"/>
<text transform="translate(766.9,723.7) rotate(-58)" font-size="8" text-anchor="end" font-family="DejaVu Sans, sans-serif" fill="#1a1a1a" stroke="#1a1a1a" stroke-width="0.15">3.13<tspan font-style="italic">Å</tspan></text>
<line x1="790.0" y1="714.5" x2="790.0" y2="717.8" stroke="#222" stroke-width="1"/>
<text transform="translate(797.0,723.7) rotate(-58)" font-size="8" text-anchor="end" font-family="DejaVu Sans, sans-serif" fill="#1a1a1a" stroke="#1a1a1a" stroke-width="0.15">2.62<tspan font-style="italic">Å</tspan></text>
<line x1="820.1" y1="714.5" x2="820.1" y2="717.8" stroke="#222" stroke-width="1"/>
<text transform="translate(827.1,723.7) rotate(-58)" font-size="8" text-anchor="end" font-family="DejaVu Sans, sans-serif" fill="#1a1a1a" stroke="#1a1a1a" stroke-width="0.15">2.25<tspan font-style="italic">Å</tspan></text>
<line x1="850.2" y1="714.5" x2="850.2" y2="717.8" stroke="#222" stroke-width="1"/>
<text transform="translate(857.2,723.7) rotate(-58)" font-size="8" text-anchor="end" font-family="DejaVu Sans, sans-serif" fill="#1a1a1a" stroke="#1a1a1a" stroke-width="0.15">1.97<tspan font-style="italic">Å</tspan></text>
<text x="726.7" y="758.7" font-size="16.7" text-anchor="middle" font-family="DejaVu Sans, sans-serif" fill="#1a1a1a" stroke="#1a1a1a" stroke-width="0.35">Resolution</text>
<text transform="translate(566.7,638.3) rotate(-90)" font-size="12.9" text-anchor="middle" font-family="DejaVu Sans, sans-serif" fill="#222" stroke="#222" stroke-width="0.25">Model-to-map FSC</text>
<line x1="606" y1="871.8" x2="848" y2="871.8" stroke="#444" stroke-width="1" stroke-dasharray="3 2"/>
<line x1="715.2" y1="810.2" x2="715.2" y2="940.9" stroke="#f08a5a" stroke-width="1.5" stroke-dasharray="1.6 2.2"/>
<line x1="743.9" y1="810.2" x2="743.9" y2="940.9" stroke="#f8c84a" stroke-width="1.5" stroke-dasharray="1.6 2.2"/>
<line x1="759.8" y1="810.2" x2="759.8" y2="940.9" stroke="#4a9a66" stroke-width="1.5" stroke-dasharray="1.6 2.2"/>
<polyline points="605.9,801.8 609.2,802.0 612.6,802.2 615.9,802.4 619.2,802.6 622.5,802.8 625.8,803.0 629.1,803.2 632.5,803.4 635.6,803.5 638.7,804.4 641.8,804.5 644.9,806.1 648.1,805.9 651.2,808.0 654.3,807.5 657.4,809.6 660.5,811.8 663.7,816.1 666.8,819.0 670.7,825.8 674.6,831.5 678.6,840.8 682.4,834.6 685.5,832.6 688.6,829.9 691.8,829.3 694.9,828.3 698.0,827.4 701.1,825.2 704.2,823.6 707.4,823.7 710.5,825.7 713.6,826.8 716.7,829.6 719.8,831.5 723.0,832.6 726.1,833.0 729.2,834.8 732.3,836.1 735.4,838.7 738.6,842.4 741.7,845.4 744.8,850.2 747.9,853.0 751.1,856.4 754.2,859.3 757.3,862.7 760.4,866.3 763.5,870.5 766.7,875.1 768.2,893.9 769.2,941.0 771.7,941.3 774.5,941.5 777.3,940.5 780.1,941.6 782.9,940.9 785.7,940.4 788.5,940.9 791.3,941.1 794.1,940.9 796.9,941.0 799.7,940.6 802.6,939.8 805.4,939.9 808.2,940.3 811.0,941.8 813.8,942.1 816.6,941.9 819.4,941.9 822.2,941.8 825.0,940.3 827.8,941.3 830.6,941.0 833.5,941.6 836.3,939.9 839.1,940.1 841.9,941.3 844.7,940.9 847.5,942.1" fill="none" stroke="#2b8a47" stroke-width="1.9" stroke-linejoin="round"/>
<polyline points="605.9,801.8 609.2,802.1 612.6,802.3 615.9,802.6 619.2,802.9 622.5,803.2 625.8,803.4 629.1,803.7 632.5,804.0 635.6,805.2 638.7,805.4 641.8,806.3 644.9,806.2 648.1,806.5 651.2,808.5 654.3,809.9 657.4,811.2 660.5,813.7 663.7,816.8 666.8,819.0 670.7,821.2 674.6,825.2 677.7,834.6 682.4,831.5 685.5,833.1 688.6,833.0 691.8,833.3 694.9,834.6 698.0,836.3 701.1,837.7 704.2,838.4 707.4,840.8 710.5,845.5 713.6,850.2 716.7,852.5 719.8,854.9 723.0,856.0 726.1,856.4 729.2,858.6 732.3,861.1 735.4,863.8 738.6,865.8 741.7,868.1 744.8,868.9 747.9,871.5 751.1,875.1 754.2,879.6 757.3,883.0 760.4,884.4 763.5,887.6 766.7,893.9 768.2,918.8 769.2,941.0 771.7,940.9 774.5,941.2 777.3,940.9 780.1,940.9 782.9,940.4 785.7,940.5 788.5,942.1 791.3,940.8 794.1,941.3 796.9,942.2 799.7,939.8 802.6,941.9 805.4,939.9 808.2,941.6 811.0,940.5 813.8,941.6 816.6,940.9 819.4,941.9 822.2,941.1 825.0,940.7 827.8,941.7 830.6,941.7 833.5,940.8 836.3,941.0 839.1,940.7 841.9,940.9 844.7,940.6 847.5,940.4" fill="none" stroke="#fbcf45" stroke-width="1.9" stroke-linejoin="round"/>
<polyline points="605.9,801.8 609.3,802.1 612.7,802.3 616.1,802.6 619.4,802.8 622.8,803.1 626.2,803.4 629.3,803.9 632.5,804.0 635.6,805.7 638.7,805.1 641.8,806.5 644.9,807.6 648.1,808.5 651.2,809.6 654.3,813.2 657.4,815.8 660.5,817.4 663.7,819.0 668.3,825.2 671.5,840.8 674.6,856.4 677.7,867.3 682.4,868.9 685.5,867.2 688.6,867.3 691.8,868.8 694.9,868.9 698.0,859.5 701.1,856.2 704.2,853.3 708.9,856.4 713.6,867.3 718.3,873.6 723.0,875.1 726.1,879.2 729.2,881.4 732.3,883.4 735.4,886.1 738.6,887.9 741.7,890.8 744.8,892.6 747.9,893.9 751.1,896.7 754.2,900.1 757.3,902.6 760.4,903.2 765.1,909.5 766.7,918.8 768.2,941.0 770.7,941.7 773.5,940.8 776.3,940.0 779.1,940.2 782.0,939.8 784.8,941.2 787.6,942.0 790.4,940.7 793.2,939.9 796.0,941.4 798.8,940.9 801.6,941.6 804.4,940.3 807.2,941.7 810.0,942.0 812.9,941.2 815.7,941.5 818.5,941.2 821.3,939.9 824.1,941.2 826.9,940.0 829.7,940.8 832.5,941.3 835.3,941.2 838.1,941.8 840.9,940.9 843.8,941.5 846.6,940.9" fill="none" stroke="#e8641e" stroke-width="1.9" stroke-linejoin="round"/>
<rect x="718.3" y="865.8" width="52.1" height="28.7" fill="none" stroke="#000" stroke-width="0.9"/>
<line x1="699.6" y1="879.8" x2="718.3" y2="865.8" stroke="#000" stroke-width="0.8"/>
<line x1="706.7" y1="911.0" x2="740.1" y2="894.5" stroke="#000" stroke-width="0.8"/>
<rect x="603.4" y="879.8" width="103.3" height="61.5" fill="#fff" stroke="#000" stroke-width="1.1"/>
<line x1="605.0" y1="883.6" x2="705.2" y2="883.6" stroke="#333" stroke-width="1.4" stroke-dasharray="4 2.2"/>
<line x1="641.8" y1="887.3" x2="641.8" y2="940.4" stroke="#ec6a2a" stroke-width="2.4" stroke-dasharray="2.4 2.9"/>
<line x1="673.0" y1="887.3" x2="673.0" y2="940.4" stroke="#f9c940" stroke-width="2.4" stroke-dasharray="2.4 2.9"/>
<line x1="693.3" y1="887.3" x2="693.3" y2="940.4" stroke="#2f8c4a" stroke-width="2.4" stroke-dasharray="2.4 2.9"/>
<polyline points="691.8,879.8 696.4,883.0 699.6,887.6 701.1,903.2 702.7,925.1 704.2,940.7" fill="none" stroke="#2b8a47" stroke-width="3" stroke-linejoin="round"/>
<polyline points="668.3,879.8 676.1,884.5 682.4,887.6 688.6,890.8 694.9,900.1 698.0,909.5 701.1,925.1 702.7,940.7" fill="none" stroke="#fbcf45" stroke-width="3" stroke-linejoin="round"/>
<polyline points="616.8,879.8 626.2,881.4 641.8,883.0 648.1,887.6 657.4,890.8 663.7,897.0 669.9,900.1 676.1,903.2 682.4,912.6 688.6,918.8 694.9,925.1 699.6,931.3 702.7,940.7" fill="none" stroke="#e8641e" stroke-width="3" stroke-linejoin="round"/>
<line x1="641.8" y1="883.0" x2="631.1" y2="891.6" stroke="#e8641e" stroke-width="1.3"/>
<path d="M626.2,895.4L629.0,889.0L633.1,894.1Z" fill="#e8641e"/>
<line x1="668.3" y1="886.1" x2="648.9" y2="909.4" stroke="#fbcf45" stroke-width="1.3"/>
<path d="M644.9,914.2L646.4,907.3L651.4,911.5Z" fill="#fbcf45"/>
<line x1="693.3" y1="884.5" x2="676.3" y2="912.0" stroke="#2b8a47" stroke-width="1.3"/>
<path d="M673.0,917.3L673.5,910.3L679.1,913.7Z" fill="#2b8a47"/>
<text x="605.9" y="910.1" font-size="14.5" font-family="Liberation Sans, Arial, sans-serif" font-weight="bold" fill="#e8641e">4.44Å</text>
<text x="605.9" y="931.3" font-size="14.5" font-family="Liberation Sans, Arial, sans-serif" font-weight="bold" fill="#fbcf45">3.53Å</text>
<text x="654.3" y="931.3" font-size="14.5" font-family="Liberation Sans, Arial, sans-serif" font-weight="bold" fill="#2b8a47">3.16Å</text>
<text x="704.9" y="809.3" font-size="10.3" font-family="DejaVu Sans, sans-serif" fill="#ee8656">4.44<tspan font-style="italic">Å</tspan></text>
<text x="735.5" y="809.3" font-size="10.3" font-family="DejaVu Sans, sans-serif" fill="#f4c64c">3.53<tspan font-style="italic">Å</tspan></text>
<text x="765.1" y="809.3" font-size="10.3" font-family="DejaVu Sans, sans-serif" fill="#4d9c66">3.16<tspan font-style="italic">Å</tspan></text>
<line x1="815.2" y1="807.6" x2="834.6" y2="807.6" stroke="#2b8a47" stroke-width="2.2"/>
<text x="840.2" y="810.8" font-size="9" font-family="DejaVu Sans, sans-serif" fill="#333" textLength="10.6" lengthAdjust="spacingAndGlyphs">3<tspan font-style="italic">Å</tspan></text>
<line x1="815.2" y1="821.0" x2="834.6" y2="821.0" stroke="#fbcf45" stroke-width="2.2"/>
<text x="840.2" y="824.2" font-size="9" font-family="DejaVu Sans, sans-serif" fill="#333" textLength="10.6" lengthAdjust="spacingAndGlyphs">5<tspan font-style="italic">Å</tspan></text>
<line x1="815.2" y1="834.4" x2="834.6" y2="834.4" stroke="#e8641e" stroke-width="2.2"/>
<text x="840.2" y="837.6" font-size="9" font-family="DejaVu Sans, sans-serif" fill="#333" textLength="10.6" lengthAdjust="spacingAndGlyphs">7<tspan font-style="italic">Å</tspan></text>
<rect x="593.8" y="795.6" width="265.8" height="151.6" fill="none" stroke="#222" stroke-width="1.6"/>
<line x1="590.5" y1="802.6" x2="593.8" y2="802.6" stroke="#222" stroke-width="1"/>
<text x="589.0" y="805.5" font-size="7.9" text-anchor="end" font-family="DejaVu Sans, sans-serif" fill="#222" stroke="#222" stroke-width="0.15">1</text>
<line x1="590.5" y1="837.2" x2="593.8" y2="837.2" stroke="#222" stroke-width="1"/>
<text x="589.0" y="840.1" font-size="7.9" text-anchor="end" font-family="DejaVu Sans, sans-serif" fill="#222" stroke="#222" stroke-width="0.15">0.75</text>
<line x1="590.5" y1="871.8" x2="593.8" y2="871.8" stroke="#222" stroke-width="1"/>
<text x="589.0" y="874.6" font-size="7.9" text-anchor="end" font-family="DejaVu Sans, sans-serif" fill="#222" stroke="#222" stroke-width="0.15">0.5</text>
<line x1="590.5" y1="906.3" x2="593.8" y2="906.3" stroke="#222" stroke-width="1"/>
<text x="589.0" y="909.2" font-size="7.9" text-anchor="end" font-family="DejaVu Sans, sans-serif" fill="#222" stroke="#222" stroke-width="0.15">0.25</text>
<line x1="590.5" y1="940.9" x2="593.8" y2="940.9" stroke="#222" stroke-width="1"/>
<text x="589.0" y="943.8" font-size="7.9" text-anchor="end" font-family="DejaVu Sans, sans-serif" fill="#222" stroke="#222" stroke-width="0.15">0</text>
<line x1="609.4" y1="947.2" x2="609.4" y2="950.5" stroke="#222" stroke-width="1"/>
<text transform="translate(616.4,956.4) rotate(-58)" font-size="8" text-anchor="end" font-family="DejaVu Sans, sans-serif" fill="#1a1a1a" stroke="#1a1a1a" stroke-width="0.15">240<tspan font-style="italic">Å</tspan></text>
<line x1="639.5" y1="947.2" x2="639.5" y2="950.5" stroke="#222" stroke-width="1"/>
<text transform="translate(646.5,956.4) rotate(-58)" font-size="8" text-anchor="end" font-family="DejaVu Sans, sans-serif" fill="#1a1a1a" stroke="#1a1a1a" stroke-width="0.15">15<tspan font-style="italic">Å</tspan></text>
<line x1="669.6" y1="947.2" x2="669.6" y2="950.5" stroke="#222" stroke-width="1"/>
<text transform="translate(676.6,956.4) rotate(-58)" font-size="8" text-anchor="end" font-family="DejaVu Sans, sans-serif" fill="#1a1a1a" stroke="#1a1a1a" stroke-width="0.15">7.74<tspan font-style="italic">Å</tspan></text>
<line x1="699.7" y1="947.2" x2="699.7" y2="950.5" stroke="#222" stroke-width="1"/>
<text transform="translate(706.7,956.4) rotate(-58)" font-size="8" text-anchor="end" font-family="DejaVu Sans, sans-serif" fill="#1a1a1a" stroke="#1a1a1a" stroke-width="0.15">5.22<tspan font-style="italic">Å</tspan></text>
<line x1="729.8" y1="947.2" x2="729.8" y2="950.5" stroke="#222" stroke-width="1"/>
<text transform="translate(736.8,956.4) rotate(-58)" font-size="8" text-anchor="end" font-family="DejaVu Sans, sans-serif" fill="#1a1a1a" stroke="#1a1a1a" stroke-width="0.15">3.93<tspan font-style="italic">Å</tspan></text>
<line x1="759.9" y1="947.2" x2="759.9" y2="950.5" stroke="#222" stroke-width="1"/>
<text transform="translate(766.9,956.4) rotate(-58)" font-size="8" text-anchor="end" font-family="DejaVu Sans, sans-serif" fill="#1a1a1a" stroke="#1a1a1a" stroke-width="0.15">3.16<tspan font-style="italic">Å</tspan></text>
<line x1="790.0" y1="947.2" x2="790.0" y2="950.5" stroke="#222" stroke-width="1"/>
<text transform="translate(797.0,956.4) rotate(-58)" font-size="8" text-anchor="end" font-family="DejaVu Sans, sans-serif" fill="#1a1a1a" stroke="#1a1a1a" stroke-width="0.15">2.64<tspan font-style="italic">Å</tspan></text>
<line x1="820.1" y1="947.2" x2="820.1" y2="950.5" stroke="#222" stroke-width="1"/>
<text transform="translate(827.1,956.4) rotate(-58)" font-size="8" text-anchor="end" font-family="DejaVu Sans, sans-serif" fill="#1a1a1a" stroke="#1a1a1a" stroke-width="0.15">2.26<tspan font-style="italic">Å</tspan></text>
<line x1="850.2" y1="947.2" x2="850.2" y2="950.5" stroke="#222" stroke-width="1"/>
<text transform="translate(857.2,956.4) rotate(-58)" font-size="8" text-anchor="end" font-family="DejaVu Sans, sans-serif" fill="#1a1a1a" stroke="#1a1a1a" stroke-width="0.15">1.98<tspan font-style="italic">Å</tspan></text>
<text x="726.7" y="991.4" font-size="16.7" text-anchor="middle" font-family="DejaVu Sans, sans-serif" fill="#1a1a1a" stroke="#1a1a1a" stroke-width="0.35">Resolution</text>
<text transform="translate(566.7,871.4) rotate(-90)" font-size="12.9" text-anchor="middle" font-family="DejaVu Sans, sans-serif" fill="#222" stroke="#222" stroke-width="0.25">Model-to-map FSC</text>
</svg>
</body></html>
